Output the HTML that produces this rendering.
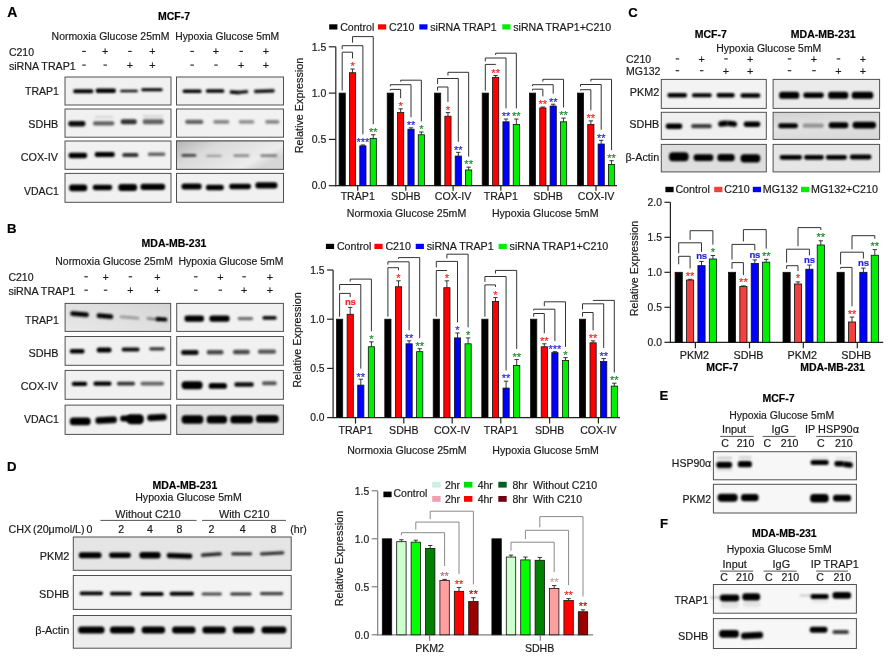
<!DOCTYPE html>
<html><head><meta charset="utf-8"><style>
html,body{margin:0;padding:0;background:#fff;}
svg{display:block;opacity:0.999;filter:blur(0.3px);}
text{font-family:"Liberation Sans", sans-serif;stroke:currentColor;stroke-width:0.18px;}
</style></head><body>
<svg width="891" height="661" viewBox="0 0 891 661">
<defs>
<filter id="bl" x="-20%" y="-100%" width="140%" height="300%"><feGaussianBlur stdDeviation="0.95"/></filter>
<linearGradient id="gcox" x1="0" y1="0" x2="1" y2="0.5">
<stop offset="0" stop-color="#b4b4b4"/><stop offset="0.35" stop-color="#dadada"/><stop offset="0.7" stop-color="#e6e6e6"/><stop offset="0.85" stop-color="#ededed"/><stop offset="1" stop-color="#d6d6d6"/>
</linearGradient>
<linearGradient id="gsdhb" x1="0" y1="0" x2="0.3" y2="1">
<stop offset="0" stop-color="#d2d2d2"/><stop offset="0.6" stop-color="#e2e2e2"/><stop offset="1" stop-color="#dadada"/>
</linearGradient>
<linearGradient id="gtrap" x1="0" y1="1" x2="1" y2="0">
<stop offset="0" stop-color="#e8e8e8"/><stop offset="0.6" stop-color="#dedede"/><stop offset="1" stop-color="#d4d4d4"/>
</linearGradient>
</defs>
<rect x="0" y="0" width="891" height="661" fill="#fff"/>
<text x="7.20" y="17.20" font-size="14" text-anchor="start" font-weight="bold" fill="#000" style="color:#000" >A</text>
<text x="174.00" y="20.20" font-size="10.5" text-anchor="middle" font-weight="bold" fill="#000" style="color:#000" >MCF-7</text>
<text x="51.60" y="39.70" font-size="10.45" text-anchor="start" font-weight="normal" fill="#1a1a1a" style="color:#1a1a1a" >Normoxia Glucose 25mM</text>
<text x="175.20" y="39.70" font-size="10.35" text-anchor="start" font-weight="normal" fill="#1a1a1a" style="color:#1a1a1a" >Hypoxia Glucose 5mM</text>
<text x="8.90" y="55.80" font-size="10.5" text-anchor="start" font-weight="normal" fill="#1a1a1a" style="color:#1a1a1a" >C210</text>
<text x="8.90" y="69.50" font-size="10.7" text-anchor="start" font-weight="normal" fill="#1a1a1a" style="color:#1a1a1a" >siRNA TRAP1</text>
<rect x="82.25" y="50.85" width="3.50" height="1.10" fill="#1a1a1a" />
<text x="105.20" y="55.30" font-size="10.8" text-anchor="middle" font-weight="normal" fill="#1a1a1a" style="color:#1a1a1a" >+</text>
<rect x="128.15" y="50.85" width="3.50" height="1.10" fill="#1a1a1a" />
<text x="152.30" y="55.30" font-size="10.8" text-anchor="middle" font-weight="normal" fill="#1a1a1a" style="color:#1a1a1a" >+</text>
<rect x="190.35" y="50.85" width="3.50" height="1.10" fill="#1a1a1a" />
<text x="216.00" y="55.30" font-size="10.8" text-anchor="middle" font-weight="normal" fill="#1a1a1a" style="color:#1a1a1a" >+</text>
<rect x="239.45" y="50.85" width="3.50" height="1.10" fill="#1a1a1a" />
<text x="265.90" y="55.30" font-size="10.8" text-anchor="middle" font-weight="normal" fill="#1a1a1a" style="color:#1a1a1a" >+</text>
<rect x="82.25" y="64.55" width="3.50" height="1.10" fill="#1a1a1a" />
<rect x="103.45" y="64.55" width="3.50" height="1.10" fill="#1a1a1a" />
<text x="129.90" y="69.00" font-size="10.8" text-anchor="middle" font-weight="normal" fill="#1a1a1a" style="color:#1a1a1a" >+</text>
<text x="152.30" y="69.00" font-size="10.8" text-anchor="middle" font-weight="normal" fill="#1a1a1a" style="color:#1a1a1a" >+</text>
<rect x="190.35" y="64.55" width="3.50" height="1.10" fill="#1a1a1a" />
<rect x="214.25" y="64.55" width="3.50" height="1.10" fill="#1a1a1a" />
<text x="241.20" y="69.00" font-size="10.8" text-anchor="middle" font-weight="normal" fill="#1a1a1a" style="color:#1a1a1a" >+</text>
<text x="265.90" y="69.00" font-size="10.8" text-anchor="middle" font-weight="normal" fill="#1a1a1a" style="color:#1a1a1a" >+</text>
<text x="58.90" y="94.80" font-size="10.5" text-anchor="end" font-weight="normal" fill="#1a1a1a" style="color:#1a1a1a" >TRAP1</text>
<text x="58.30" y="127.50" font-size="10.8" text-anchor="end" font-weight="normal" fill="#1a1a1a" style="color:#1a1a1a" >SDHB</text>
<text x="57.90" y="161.00" font-size="10.8" text-anchor="end" font-weight="normal" fill="#1a1a1a" style="color:#1a1a1a" >COX-IV</text>
<text x="58.90" y="194.50" font-size="10.5" text-anchor="end" font-weight="normal" fill="#1a1a1a" style="color:#1a1a1a" >VDAC1</text>
<rect x="65.00" y="77.00" width="106.00" height="28.00" fill="#f1f1f1" stroke="#505050" stroke-width="1.0" />
<rect x="176.50" y="77.00" width="107.00" height="28.00" fill="#f1f1f1" stroke="#505050" stroke-width="1.0" />
<rect x="65.00" y="109.00" width="106.00" height="28.20" fill="#f1f1f1" stroke="#505050" stroke-width="1.0" />
<rect x="176.50" y="109.00" width="107.00" height="28.20" fill="#f1f1f1" stroke="#505050" stroke-width="1.0" />
<rect x="65.00" y="141.00" width="106.00" height="28.30" fill="#f1f1f1" stroke="#505050" stroke-width="1.0" />
<rect x="176.50" y="141.00" width="107.00" height="28.30" fill="#f1f1f1" stroke="#505050" stroke-width="1.0" />
<rect x="65.00" y="173.40" width="106.00" height="28.90" fill="#f1f1f1" stroke="#505050" stroke-width="1.0" />
<rect x="176.50" y="173.40" width="107.00" height="28.90" fill="#f1f1f1" stroke="#505050" stroke-width="1.0" />
<rect x="73.20" y="89.27" width="20.10" height="3.86" rx="1.62" ry="1.74" fill="#000" fill-opacity="1" filter="url(#bl)"/>
<rect x="95.70" y="88.59" width="20.20" height="4.42" rx="1.86" ry="1.99" fill="#000" fill-opacity="1" filter="url(#bl)"/>
<rect x="120.20" y="89.63" width="17.60" height="2.74" rx="1.15" ry="1.23" fill="#000" fill-opacity="0.95" filter="url(#bl)"/>
<rect x="141.30" y="88.32" width="21.30" height="2.96" rx="1.24" ry="1.33" fill="#000" fill-opacity="1" filter="url(#bl)"/>
<rect x="68.20" y="120.99" width="17.30" height="5.43" rx="2.28" ry="2.44" fill="#000" fill-opacity="0.95" filter="url(#bl)"/>
<rect x="93.00" y="121.15" width="21.30" height="4.31" rx="1.81" ry="1.94" fill="#000" fill-opacity="0.6" filter="url(#bl)"/>
<rect x="94.70" y="115.63" width="18.60" height="2.74" rx="1.15" ry="1.23" fill="#000" fill-opacity="0.1" filter="url(#bl)"/>
<rect x="120.70" y="119.31" width="16.10" height="4.98" rx="2.09" ry="2.24" fill="#000" fill-opacity="0.8" filter="url(#bl)"/>
<rect x="142.70" y="119.31" width="21.10" height="4.98" rx="2.09" ry="2.24" fill="#000" fill-opacity="0.6" filter="url(#bl)"/>
<rect x="142.70" y="115.03" width="20.60" height="2.74" rx="1.15" ry="1.23" fill="#000" fill-opacity="0.1" filter="url(#bl)"/>
<rect x="68.50" y="152.73" width="18.70" height="5.54" rx="2.33" ry="2.49" fill="#000" fill-opacity="1" filter="url(#bl)"/>
<rect x="94.70" y="152.01" width="20.10" height="4.98" rx="2.09" ry="2.24" fill="#000" fill-opacity="1" filter="url(#bl)"/>
<rect x="122.30" y="152.96" width="16.10" height="4.08" rx="1.72" ry="1.84" fill="#000" fill-opacity="0.8" filter="url(#bl)"/>
<rect x="147.90" y="152.54" width="17.40" height="3.52" rx="1.48" ry="1.59" fill="#000" fill-opacity="0.6" filter="url(#bl)"/>
<rect x="69.10" y="184.47" width="18.10" height="6.66" rx="2.80" ry="3.00" fill="#000" fill-opacity="1" filter="url(#bl)"/>
<rect x="92.70" y="184.73" width="19.50" height="5.54" rx="2.33" ry="2.49" fill="#000" fill-opacity="1" filter="url(#bl)"/>
<rect x="118.30" y="183.89" width="18.80" height="7.22" rx="3.03" ry="3.25" fill="#000" fill-opacity="1" filter="url(#bl)"/>
<rect x="140.50" y="183.85" width="24.60" height="6.10" rx="2.56" ry="2.75" fill="#000" fill-opacity="1" filter="url(#bl)"/>
<rect x="182.60" y="89.49" width="19.00" height="3.41" rx="1.43" ry="1.54" fill="#000" fill-opacity="1" filter="url(#bl)"/>
<rect x="205.90" y="89.29" width="18.40" height="3.41" rx="1.43" ry="1.54" fill="#000" fill-opacity="1" filter="url(#bl)"/>
<rect x="229.60" y="90.49" width="9.70" height="3.41" rx="1.43" ry="1.54" fill="#000" fill-opacity="1" filter="url(#bl)" transform="rotate(5 234.45 92.20)"/>
<rect x="237.70" y="90.41" width="10.50" height="3.19" rx="1.34" ry="1.43" fill="#000" fill-opacity="1" filter="url(#bl)" transform="rotate(-6 242.95 92.00)"/>
<rect x="254.00" y="89.61" width="20.70" height="3.19" rx="1.34" ry="1.43" fill="#000" fill-opacity="1" filter="url(#bl)" transform="rotate(-2 264.35 91.20)"/>
<rect x="185.20" y="119.86" width="18.10" height="4.08" rx="1.72" ry="1.84" fill="#000" fill-opacity="0.6" filter="url(#bl)"/>
<rect x="213.30" y="120.08" width="16.00" height="3.64" rx="1.53" ry="1.64" fill="#000" fill-opacity="0.45" filter="url(#bl)"/>
<rect x="238.70" y="120.08" width="15.60" height="3.64" rx="1.53" ry="1.64" fill="#000" fill-opacity="0.4" filter="url(#bl)"/>
<rect x="265.20" y="120.08" width="14.10" height="3.64" rx="1.53" ry="1.64" fill="#000" fill-opacity="0.45" filter="url(#bl)"/>
<rect x="176.5" y="141" width="107" height="28.3" fill="url(#gcox)" stroke="#505050" stroke-width="1.0"/>
<rect x="181.50" y="154.03" width="14.80" height="2.74" rx="1.15" ry="1.23" fill="#000" fill-opacity="0.7" filter="url(#bl)"/>
<rect x="206.30" y="154.71" width="15.40" height="2.18" rx="0.92" ry="0.98" fill="#000" fill-opacity="0.3" filter="url(#bl)"/>
<rect x="233.40" y="154.23" width="15.90" height="2.74" rx="1.15" ry="1.23" fill="#000" fill-opacity="0.4" filter="url(#bl)"/>
<rect x="260.30" y="154.23" width="17.00" height="2.74" rx="1.15" ry="1.23" fill="#000" fill-opacity="0.45" filter="url(#bl)"/>
<rect x="181.50" y="183.45" width="20.10" height="6.10" rx="2.56" ry="2.75" fill="#000" fill-opacity="1" filter="url(#bl)"/>
<rect x="205.90" y="184.83" width="17.90" height="5.54" rx="2.33" ry="2.49" fill="#000" fill-opacity="1" filter="url(#bl)"/>
<rect x="229.20" y="183.73" width="21.80" height="5.54" rx="2.33" ry="2.49" fill="#000" fill-opacity="1" filter="url(#bl)"/>
<rect x="255.40" y="182.35" width="22.00" height="6.10" rx="2.56" ry="2.75" fill="#000" fill-opacity="1" filter="url(#bl)"/>
<text x="7.10" y="232.70" font-size="13.2" text-anchor="start" font-weight="bold" fill="#000" style="color:#000" >B</text>
<text x="174.00" y="247.40" font-size="10.5" text-anchor="middle" font-weight="bold" fill="#000" style="color:#000" >MDA-MB-231</text>
<text x="55.30" y="265.20" font-size="10.45" text-anchor="start" font-weight="normal" fill="#1a1a1a" style="color:#1a1a1a" >Normoxia Glucose 25mM</text>
<text x="178.50" y="265.20" font-size="10.45" text-anchor="start" font-weight="normal" fill="#1a1a1a" style="color:#1a1a1a" >Hypoxia Glucose 5mM</text>
<text x="8.40" y="281.20" font-size="10.5" text-anchor="start" font-weight="normal" fill="#1a1a1a" style="color:#1a1a1a" >C210</text>
<text x="8.40" y="294.60" font-size="10.7" text-anchor="start" font-weight="normal" fill="#1a1a1a" style="color:#1a1a1a" >siRNA TRAP1</text>
<rect x="84.35" y="276.25" width="3.50" height="1.10" fill="#1a1a1a" />
<text x="105.60" y="280.70" font-size="10.8" text-anchor="middle" font-weight="normal" fill="#1a1a1a" style="color:#1a1a1a" >+</text>
<rect x="128.65" y="276.25" width="3.50" height="1.10" fill="#1a1a1a" />
<text x="157.30" y="280.70" font-size="10.8" text-anchor="middle" font-weight="normal" fill="#1a1a1a" style="color:#1a1a1a" >+</text>
<rect x="194.05" y="276.25" width="3.50" height="1.10" fill="#1a1a1a" />
<text x="220.30" y="280.70" font-size="10.8" text-anchor="middle" font-weight="normal" fill="#1a1a1a" style="color:#1a1a1a" >+</text>
<rect x="242.35" y="276.25" width="3.50" height="1.10" fill="#1a1a1a" />
<text x="270.00" y="280.70" font-size="10.8" text-anchor="middle" font-weight="normal" fill="#1a1a1a" style="color:#1a1a1a" >+</text>
<rect x="84.35" y="289.65" width="3.50" height="1.10" fill="#1a1a1a" />
<rect x="103.85" y="289.65" width="3.50" height="1.10" fill="#1a1a1a" />
<text x="130.40" y="294.10" font-size="10.8" text-anchor="middle" font-weight="normal" fill="#1a1a1a" style="color:#1a1a1a" >+</text>
<text x="157.30" y="294.10" font-size="10.8" text-anchor="middle" font-weight="normal" fill="#1a1a1a" style="color:#1a1a1a" >+</text>
<rect x="194.05" y="289.65" width="3.50" height="1.10" fill="#1a1a1a" />
<rect x="218.55" y="289.65" width="3.50" height="1.10" fill="#1a1a1a" />
<text x="244.10" y="294.10" font-size="10.8" text-anchor="middle" font-weight="normal" fill="#1a1a1a" style="color:#1a1a1a" >+</text>
<text x="270.00" y="294.10" font-size="10.8" text-anchor="middle" font-weight="normal" fill="#1a1a1a" style="color:#1a1a1a" >+</text>
<text x="58.90" y="324.00" font-size="10.5" text-anchor="end" font-weight="normal" fill="#1a1a1a" style="color:#1a1a1a" >TRAP1</text>
<text x="58.50" y="357.30" font-size="10.8" text-anchor="end" font-weight="normal" fill="#1a1a1a" style="color:#1a1a1a" >SDHB</text>
<text x="57.90" y="389.50" font-size="10.8" text-anchor="end" font-weight="normal" fill="#1a1a1a" style="color:#1a1a1a" >COX-IV</text>
<text x="58.90" y="423.40" font-size="10.5" text-anchor="end" font-weight="normal" fill="#1a1a1a" style="color:#1a1a1a" >VDAC1</text>
<rect x="65.10" y="303.40" width="105.60" height="28.00" fill="url(#gtrap)" stroke="#505050" stroke-width="1.0" />
<rect x="176.70" y="303.40" width="106.70" height="28.00" fill="#f1f1f1" stroke="#505050" stroke-width="1.0" />
<rect x="65.10" y="336.50" width="105.60" height="28.80" fill="#f1f1f1" stroke="#505050" stroke-width="1.0" />
<rect x="176.70" y="336.50" width="106.70" height="28.80" fill="#f1f1f1" stroke="#505050" stroke-width="1.0" />
<rect x="65.10" y="370.40" width="105.60" height="28.90" fill="#f1f1f1" stroke="#505050" stroke-width="1.0" />
<rect x="176.70" y="370.40" width="106.70" height="28.90" fill="#f1f1f1" stroke="#505050" stroke-width="1.0" />
<rect x="65.10" y="405.10" width="105.60" height="29.30" fill="#f1f1f1" stroke="#505050" stroke-width="1.0" />
<rect x="176.70" y="405.10" width="106.70" height="29.30" fill="#e2e2e2" stroke="#505050" stroke-width="1.0" />
<rect x="70.30" y="311.82" width="18.50" height="4.76" rx="2.00" ry="2.14" fill="#000" fill-opacity="1" filter="url(#bl)" transform="rotate(5 79.55 314.20)"/>
<rect x="96.60" y="313.82" width="16.60" height="4.76" rx="2.00" ry="2.14" fill="#000" fill-opacity="1" filter="url(#bl)" transform="rotate(5 104.90 316.20)"/>
<rect x="119.70" y="316.02" width="19.60" height="2.96" rx="1.24" ry="1.33" fill="#000" fill-opacity="0.3" filter="url(#bl)" transform="rotate(5 129.50 317.50)"/>
<rect x="146.70" y="317.74" width="13.60" height="2.52" rx="1.06" ry="1.13" fill="#000" fill-opacity="0.45" filter="url(#bl)" transform="rotate(6 153.50 319.00)"/>
<rect x="155.70" y="317.26" width="11.60" height="4.08" rx="1.72" ry="1.84" fill="#000" fill-opacity="1" filter="url(#bl)" transform="rotate(4 161.50 319.30)"/>
<rect x="69.80" y="349.09" width="14.70" height="4.42" rx="1.86" ry="1.99" fill="#000" fill-opacity="1" filter="url(#bl)"/>
<rect x="96.70" y="347.51" width="14.80" height="4.98" rx="2.09" ry="2.24" fill="#000" fill-opacity="1" filter="url(#bl)"/>
<rect x="121.70" y="347.57" width="17.80" height="3.86" rx="1.62" ry="1.74" fill="#000" fill-opacity="0.95" filter="url(#bl)"/>
<rect x="149.30" y="347.25" width="15.40" height="3.30" rx="1.39" ry="1.49" fill="#000" fill-opacity="0.8" filter="url(#bl)"/>
<rect x="71.80" y="381.69" width="15.40" height="4.42" rx="1.86" ry="1.99" fill="#000" fill-opacity="1" filter="url(#bl)"/>
<rect x="93.40" y="381.39" width="18.10" height="4.42" rx="1.86" ry="1.99" fill="#000" fill-opacity="1" filter="url(#bl)"/>
<rect x="116.90" y="381.67" width="18.10" height="3.86" rx="1.62" ry="1.74" fill="#000" fill-opacity="0.8" filter="url(#bl)"/>
<rect x="140.50" y="381.67" width="23.50" height="3.86" rx="1.62" ry="1.74" fill="#000" fill-opacity="0.6" filter="url(#bl)"/>
<rect x="69.80" y="417.41" width="20.80" height="7.78" rx="3.27" ry="3.50" fill="#000" fill-opacity="1" filter="url(#bl)"/>
<rect x="95.40" y="416.87" width="21.50" height="6.66" rx="2.80" ry="3.00" fill="#000" fill-opacity="1" filter="url(#bl)" transform="rotate(-3 106.15 420.20)"/>
<rect x="120.20" y="415.45" width="11.10" height="6.10" rx="2.56" ry="2.75" fill="#000" fill-opacity="1" filter="url(#bl)"/>
<rect x="126.70" y="414.19" width="17.10" height="10.02" rx="4.21" ry="4.51" fill="#000" fill-opacity="1" filter="url(#bl)"/>
<rect x="147.20" y="414.17" width="19.50" height="6.66" rx="2.80" ry="3.00" fill="#000" fill-opacity="1" filter="url(#bl)" transform="rotate(-3 156.95 417.50)"/>
<rect x="184.50" y="315.55" width="19.50" height="6.10" rx="2.56" ry="2.75" fill="#000" fill-opacity="1" filter="url(#bl)"/>
<rect x="209.40" y="315.55" width="20.20" height="6.10" rx="2.56" ry="2.75" fill="#000" fill-opacity="1" filter="url(#bl)"/>
<rect x="237.70" y="316.95" width="15.40" height="3.30" rx="1.39" ry="1.49" fill="#000" fill-opacity="0.55" filter="url(#bl)"/>
<rect x="262.40" y="315.97" width="14.30" height="3.86" rx="1.62" ry="1.74" fill="#000" fill-opacity="0.95" filter="url(#bl)"/>
<rect x="181.10" y="350.11" width="17.50" height="4.98" rx="2.09" ry="2.24" fill="#000" fill-opacity="0.95" filter="url(#bl)"/>
<rect x="206.70" y="350.09" width="16.80" height="4.42" rx="1.86" ry="1.99" fill="#000" fill-opacity="0.7" filter="url(#bl)"/>
<rect x="233.00" y="349.79" width="16.80" height="4.42" rx="1.86" ry="1.99" fill="#000" fill-opacity="0.7" filter="url(#bl)"/>
<rect x="257.90" y="349.39" width="18.10" height="4.42" rx="1.86" ry="1.99" fill="#000" fill-opacity="0.65" filter="url(#bl)"/>
<rect x="181.60" y="381.14" width="21.00" height="8.12" rx="3.41" ry="3.65" fill="#000" fill-opacity="1" filter="url(#bl)"/>
<rect x="208.70" y="382.96" width="18.20" height="5.88" rx="2.47" ry="2.64" fill="#000" fill-opacity="1" filter="url(#bl)"/>
<rect x="234.30" y="382.23" width="19.50" height="4.53" rx="1.90" ry="2.04" fill="#000" fill-opacity="0.95" filter="url(#bl)"/>
<rect x="262.00" y="381.16" width="14.70" height="4.08" rx="1.72" ry="1.84" fill="#000" fill-opacity="0.65" filter="url(#bl)"/>
<rect x="181.60" y="415.33" width="21.70" height="8.34" rx="3.50" ry="3.75" fill="#000" fill-opacity="1" filter="url(#bl)"/>
<rect x="206.70" y="415.61" width="20.40" height="7.78" rx="3.27" ry="3.50" fill="#000" fill-opacity="1" filter="url(#bl)"/>
<rect x="230.30" y="415.61" width="22.80" height="7.78" rx="3.27" ry="3.50" fill="#000" fill-opacity="1" filter="url(#bl)"/>
<rect x="255.90" y="415.01" width="22.80" height="7.78" rx="3.27" ry="3.50" fill="#000" fill-opacity="1" filter="url(#bl)"/>
<text x="628.20" y="16.50" font-size="13.2" text-anchor="start" font-weight="bold" fill="#000" style="color:#000" >C</text>
<text x="710.70" y="37.70" font-size="10.5" text-anchor="middle" font-weight="bold" fill="#000" style="color:#000" >MCF-7</text>
<text x="823.20" y="38.10" font-size="10.5" text-anchor="middle" font-weight="bold" fill="#000" style="color:#000" >MDA-MB-231</text>
<text x="716.30" y="51.90" font-size="10.45" text-anchor="start" font-weight="normal" fill="#1a1a1a" style="color:#1a1a1a" >Hypoxia Glucose 5mM</text>
<text x="626.00" y="63.20" font-size="10.5" text-anchor="start" font-weight="normal" fill="#1a1a1a" style="color:#1a1a1a" >C210</text>
<text x="626.00" y="75.10" font-size="10.5" text-anchor="start" font-weight="normal" fill="#1a1a1a" style="color:#1a1a1a" >MG132</text>
<rect x="675.65" y="58.35" width="3.50" height="1.10" fill="#1a1a1a" />
<text x="701.70" y="62.80" font-size="10.8" text-anchor="middle" font-weight="normal" fill="#1a1a1a" style="color:#1a1a1a" >+</text>
<rect x="724.25" y="58.35" width="3.50" height="1.10" fill="#1a1a1a" />
<text x="750.10" y="62.80" font-size="10.8" text-anchor="middle" font-weight="normal" fill="#1a1a1a" style="color:#1a1a1a" >+</text>
<rect x="787.75" y="58.35" width="3.50" height="1.10" fill="#1a1a1a" />
<text x="814.00" y="62.80" font-size="10.8" text-anchor="middle" font-weight="normal" fill="#1a1a1a" style="color:#1a1a1a" >+</text>
<rect x="836.75" y="58.35" width="3.50" height="1.10" fill="#1a1a1a" />
<text x="863.00" y="62.80" font-size="10.8" text-anchor="middle" font-weight="normal" fill="#1a1a1a" style="color:#1a1a1a" >+</text>
<rect x="675.65" y="70.15" width="3.50" height="1.10" fill="#1a1a1a" />
<rect x="699.95" y="70.15" width="3.50" height="1.10" fill="#1a1a1a" />
<text x="726.00" y="74.60" font-size="10.8" text-anchor="middle" font-weight="normal" fill="#1a1a1a" style="color:#1a1a1a" >+</text>
<text x="750.10" y="74.60" font-size="10.8" text-anchor="middle" font-weight="normal" fill="#1a1a1a" style="color:#1a1a1a" >+</text>
<rect x="787.75" y="70.15" width="3.50" height="1.10" fill="#1a1a1a" />
<rect x="812.25" y="70.15" width="3.50" height="1.10" fill="#1a1a1a" />
<text x="838.50" y="74.60" font-size="10.8" text-anchor="middle" font-weight="normal" fill="#1a1a1a" style="color:#1a1a1a" >+</text>
<text x="863.00" y="74.60" font-size="10.8" text-anchor="middle" font-weight="normal" fill="#1a1a1a" style="color:#1a1a1a" >+</text>
<text x="659.20" y="95.70" font-size="10.8" text-anchor="end" font-weight="normal" fill="#1a1a1a" style="color:#1a1a1a" >PKM2</text>
<text x="659.20" y="128.20" font-size="10.8" text-anchor="end" font-weight="normal" fill="#1a1a1a" style="color:#1a1a1a" >SDHB</text>
<text x="659.20" y="160.80" font-size="10.8" text-anchor="end" font-weight="normal" fill="#1a1a1a" style="color:#1a1a1a" >β-Actin</text>
<rect x="661.30" y="79.40" width="105.00" height="29.00" fill="#f3f3f3" stroke="#505050" stroke-width="1.0" />
<rect x="773.10" y="79.40" width="106.50" height="29.00" fill="#ebebeb" stroke="#505050" stroke-width="1.0" />
<rect x="661.30" y="112.30" width="105.00" height="27.10" fill="#f0f0f0" stroke="#505050" stroke-width="1.0" />
<rect x="773.10" y="112.30" width="106.50" height="27.10" fill="url(#gsdhb)" stroke="#505050" stroke-width="1.0" />
<rect x="661.30" y="144.40" width="105.00" height="27.50" fill="#dedede" stroke="#505050" stroke-width="1.0" />
<rect x="773.10" y="144.40" width="106.50" height="27.50" fill="#e6e6e6" stroke="#505050" stroke-width="1.0" />
<rect x="667.40" y="93.03" width="19.60" height="4.53" rx="1.90" ry="2.04" fill="#000" fill-opacity="1" filter="url(#bl)"/>
<rect x="692.00" y="93.37" width="19.70" height="3.86" rx="1.62" ry="1.74" fill="#000" fill-opacity="1" filter="url(#bl)"/>
<rect x="716.60" y="93.03" width="18.10" height="4.53" rx="1.90" ry="2.04" fill="#000" fill-opacity="1" filter="url(#bl)"/>
<rect x="740.50" y="93.23" width="19.80" height="4.53" rx="1.90" ry="2.04" fill="#000" fill-opacity="1" filter="url(#bl)"/>
<rect x="665.70" y="123.49" width="16.60" height="5.43" rx="2.28" ry="2.44" fill="#000" fill-opacity="1" filter="url(#bl)"/>
<rect x="691.20" y="124.05" width="20.50" height="4.31" rx="1.81" ry="1.94" fill="#000" fill-opacity="0.75" filter="url(#bl)"/>
<rect x="718.20" y="120.77" width="10.10" height="5.65" rx="2.37" ry="2.54" fill="#000" fill-opacity="1" filter="url(#bl)" transform="rotate(-7 723.25 123.60)"/>
<rect x="726.70" y="120.97" width="10.40" height="5.65" rx="2.37" ry="2.54" fill="#000" fill-opacity="1" filter="url(#bl)" transform="rotate(8 731.90 123.80)"/>
<rect x="743.70" y="121.59" width="16.60" height="5.43" rx="2.28" ry="2.44" fill="#000" fill-opacity="1" filter="url(#bl)"/>
<rect x="669.00" y="152.35" width="19.60" height="8.90" rx="3.74" ry="4.00" fill="#000" fill-opacity="1" filter="url(#bl)"/>
<rect x="693.60" y="154.27" width="19.70" height="6.66" rx="2.80" ry="3.00" fill="#000" fill-opacity="1" filter="url(#bl)"/>
<rect x="717.40" y="153.99" width="17.30" height="7.22" rx="3.03" ry="3.25" fill="#000" fill-opacity="1" filter="url(#bl)"/>
<rect x="740.50" y="154.34" width="19.80" height="8.12" rx="3.41" ry="3.65" fill="#000" fill-opacity="1" filter="url(#bl)"/>
<rect x="779.10" y="91.80" width="20.20" height="7.00" rx="2.94" ry="3.15" fill="#000" fill-opacity="1" filter="url(#bl)"/>
<rect x="803.30" y="92.59" width="20.50" height="5.43" rx="2.28" ry="2.44" fill="#000" fill-opacity="1" filter="url(#bl)"/>
<rect x="828.10" y="91.80" width="20.20" height="7.00" rx="2.94" ry="3.15" fill="#000" fill-opacity="1" filter="url(#bl)"/>
<rect x="851.70" y="91.80" width="21.60" height="7.00" rx="2.94" ry="3.15" fill="#000" fill-opacity="1" filter="url(#bl)"/>
<rect x="778.30" y="123.21" width="19.60" height="4.98" rx="2.09" ry="2.24" fill="#000" fill-opacity="1" filter="url(#bl)"/>
<rect x="802.70" y="123.55" width="21.10" height="4.31" rx="1.81" ry="1.94" fill="#000" fill-opacity="0.35" filter="url(#bl)"/>
<rect x="828.70" y="122.15" width="19.60" height="6.10" rx="2.56" ry="2.75" fill="#000" fill-opacity="1" filter="url(#bl)"/>
<rect x="852.60" y="121.81" width="23.40" height="6.77" rx="2.84" ry="3.05" fill="#000" fill-opacity="1" filter="url(#bl)"/>
<rect x="779.70" y="154.92" width="22.30" height="4.76" rx="2.00" ry="2.14" fill="#000" fill-opacity="1" filter="url(#bl)"/>
<rect x="804.10" y="154.92" width="19.70" height="4.76" rx="2.00" ry="2.14" fill="#000" fill-opacity="1" filter="url(#bl)"/>
<rect x="825.90" y="154.92" width="21.00" height="4.76" rx="2.00" ry="2.14" fill="#000" fill-opacity="1" filter="url(#bl)"/>
<rect x="849.90" y="154.62" width="21.50" height="4.76" rx="2.00" ry="2.14" fill="#000" fill-opacity="1" filter="url(#bl)"/>
<text x="7.00" y="471.30" font-size="13.2" text-anchor="start" font-weight="bold" fill="#000" style="color:#000" >D</text>
<text x="184.90" y="489.00" font-size="10.5" text-anchor="middle" font-weight="bold" fill="#000" style="color:#000" >MDA-MB-231</text>
<text x="135.20" y="500.80" font-size="10.6" text-anchor="start" font-weight="normal" fill="#1a1a1a" style="color:#1a1a1a" >Hypoxia Glucose 5mM</text>
<text x="115.30" y="517.90" font-size="10.8" text-anchor="start" font-weight="normal" fill="#1a1a1a" style="color:#1a1a1a" >Without C210</text>
<text x="219.00" y="517.90" font-size="10.8" text-anchor="start" font-weight="normal" fill="#1a1a1a" style="color:#1a1a1a" >With C210</text>
<line x1="100.40" y1="520.40" x2="196.60" y2="520.40" stroke="#555" stroke-width="1.0"/>
<line x1="202.00" y1="520.40" x2="286.00" y2="520.40" stroke="#555" stroke-width="1.0"/>
<text x="8.40" y="532.60" font-size="10.75" text-anchor="start" font-weight="normal" fill="#1a1a1a" style="color:#1a1a1a" word-spacing="-1.0">CHX (20μmol/L)</text>
<text x="89.50" y="532.60" font-size="10.6" text-anchor="middle" font-weight="normal" fill="#1a1a1a" style="color:#1a1a1a" >0</text>
<text x="121.20" y="532.60" font-size="10.6" text-anchor="middle" font-weight="normal" fill="#1a1a1a" style="color:#1a1a1a" >2</text>
<text x="149.90" y="532.60" font-size="10.6" text-anchor="middle" font-weight="normal" fill="#1a1a1a" style="color:#1a1a1a" >4</text>
<text x="179.40" y="532.60" font-size="10.6" text-anchor="middle" font-weight="normal" fill="#1a1a1a" style="color:#1a1a1a" >8</text>
<text x="211.40" y="532.60" font-size="10.6" text-anchor="middle" font-weight="normal" fill="#1a1a1a" style="color:#1a1a1a" >2</text>
<text x="242.60" y="532.60" font-size="10.6" text-anchor="middle" font-weight="normal" fill="#1a1a1a" style="color:#1a1a1a" >4</text>
<text x="273.40" y="532.60" font-size="10.6" text-anchor="middle" font-weight="normal" fill="#1a1a1a" style="color:#1a1a1a" >8</text>
<text x="290.30" y="532.60" font-size="10.6" text-anchor="start" font-weight="normal" fill="#1a1a1a" style="color:#1a1a1a" >(hr)</text>
<text x="69.30" y="560.30" font-size="10.9" text-anchor="end" font-weight="normal" fill="#1a1a1a" style="color:#1a1a1a" >PKM2</text>
<text x="69.30" y="598.20" font-size="10.9" text-anchor="end" font-weight="normal" fill="#1a1a1a" style="color:#1a1a1a" >SDHB</text>
<text x="69.30" y="633.60" font-size="10.9" text-anchor="end" font-weight="normal" fill="#1a1a1a" style="color:#1a1a1a" >β-Actin</text>
<rect x="73.30" y="537.00" width="217.90" height="33.30" fill="#e5e5e5" stroke="#505050" stroke-width="1.0" />
<rect x="73.30" y="575.50" width="217.90" height="33.90" fill="#f3f3f3" stroke="#505050" stroke-width="1.0" />
<rect x="73.30" y="615.50" width="217.90" height="32.70" fill="#ededed" stroke="#505050" stroke-width="1.0" />
<rect x="78.80" y="552.15" width="22.70" height="6.10" rx="2.56" ry="2.75" fill="#000" fill-opacity="1" filter="url(#bl)"/>
<rect x="109.10" y="552.49" width="21.80" height="5.43" rx="2.28" ry="2.44" fill="#000" fill-opacity="1" filter="url(#bl)"/>
<rect x="139.40" y="551.98" width="21.20" height="6.44" rx="2.70" ry="2.90" fill="#000" fill-opacity="1" filter="url(#bl)"/>
<rect x="166.70" y="553.20" width="25.70" height="5.20" rx="2.19" ry="2.34" fill="#000" fill-opacity="1" filter="url(#bl)" transform="rotate(2 179.55 555.80)"/>
<rect x="200.90" y="552.84" width="20.90" height="3.52" rx="1.48" ry="1.59" fill="#000" fill-opacity="0.85" filter="url(#bl)" transform="rotate(-4 211.35 554.60)"/>
<rect x="231.20" y="552.21" width="20.90" height="3.19" rx="1.34" ry="1.43" fill="#000" fill-opacity="0.8" filter="url(#bl)"/>
<rect x="260.00" y="551.81" width="24.30" height="3.19" rx="1.34" ry="1.43" fill="#000" fill-opacity="0.8" filter="url(#bl)" transform="rotate(-3 272.15 553.40)"/>
<rect x="79.70" y="591.58" width="23.30" height="3.64" rx="1.53" ry="1.64" fill="#000" fill-opacity="1" filter="url(#bl)"/>
<rect x="110.00" y="591.78" width="21.80" height="3.64" rx="1.53" ry="1.64" fill="#000" fill-opacity="1" filter="url(#bl)"/>
<rect x="140.30" y="592.01" width="23.30" height="3.97" rx="1.67" ry="1.79" fill="#000" fill-opacity="1" filter="url(#bl)"/>
<rect x="169.70" y="591.81" width="24.20" height="3.97" rx="1.67" ry="1.79" fill="#000" fill-opacity="1" filter="url(#bl)"/>
<rect x="201.70" y="592.52" width="20.10" height="2.96" rx="1.24" ry="1.33" fill="#000" fill-opacity="0.7" filter="url(#bl)"/>
<rect x="230.30" y="592.41" width="21.20" height="3.19" rx="1.34" ry="1.43" fill="#000" fill-opacity="0.8" filter="url(#bl)"/>
<rect x="260.00" y="591.95" width="23.30" height="3.30" rx="1.39" ry="1.49" fill="#000" fill-opacity="0.75" filter="url(#bl)"/>
<rect x="78.20" y="626.39" width="26.30" height="7.22" rx="3.03" ry="3.25" fill="#000" fill-opacity="1" filter="url(#bl)"/>
<rect x="110.00" y="626.39" width="24.80" height="7.22" rx="3.03" ry="3.25" fill="#000" fill-opacity="1" filter="url(#bl)"/>
<rect x="141.70" y="626.39" width="23.40" height="7.22" rx="3.03" ry="3.25" fill="#000" fill-opacity="1" filter="url(#bl)"/>
<rect x="172.10" y="626.39" width="23.40" height="7.22" rx="3.03" ry="3.25" fill="#000" fill-opacity="1" filter="url(#bl)"/>
<rect x="202.40" y="626.39" width="23.40" height="7.22" rx="3.03" ry="3.25" fill="#000" fill-opacity="1" filter="url(#bl)"/>
<rect x="232.70" y="626.39" width="21.80" height="7.22" rx="3.03" ry="3.25" fill="#000" fill-opacity="1" filter="url(#bl)"/>
<rect x="261.50" y="626.39" width="24.80" height="7.22" rx="3.03" ry="3.25" fill="#000" fill-opacity="1" filter="url(#bl)"/>
<text x="659.40" y="399.60" font-size="13.2" text-anchor="start" font-weight="bold" fill="#000" style="color:#000" >E</text>
<text x="778.50" y="401.50" font-size="10.5" text-anchor="middle" font-weight="bold" fill="#000" style="color:#000" >MCF-7</text>
<text x="729.20" y="419.20" font-size="10.45" text-anchor="start" font-weight="normal" fill="#1a1a1a" style="color:#1a1a1a" >Hypoxia Glucose 5mM</text>
<text x="721.90" y="433.30" font-size="10.9" text-anchor="start" font-weight="normal" fill="#1a1a1a" style="color:#1a1a1a" >Input</text>
<text x="771.40" y="433.30" font-size="10.9" text-anchor="start" font-weight="normal" fill="#1a1a1a" style="color:#1a1a1a" >IgG</text>
<text x="805.00" y="433.30" font-size="10.9" text-anchor="start" font-weight="normal" fill="#1a1a1a" style="color:#1a1a1a" >IP HSP90α</text>
<line x1="720.20" y1="436.40" x2="753.70" y2="436.40" stroke="#555" stroke-width="1.0"/>
<line x1="762.70" y1="436.40" x2="795.60" y2="436.40" stroke="#555" stroke-width="1.0"/>
<line x1="816.20" y1="436.40" x2="852.70" y2="436.40" stroke="#555" stroke-width="1.0"/>
<text x="721.20" y="446.70" font-size="10.6" text-anchor="start" font-weight="normal" fill="#1a1a1a" style="color:#1a1a1a" >C</text>
<text x="736.70" y="446.70" font-size="10.6" text-anchor="start" font-weight="normal" fill="#1a1a1a" style="color:#1a1a1a" >210</text>
<text x="763.60" y="446.70" font-size="10.6" text-anchor="start" font-weight="normal" fill="#1a1a1a" style="color:#1a1a1a" >C</text>
<text x="780.80" y="446.70" font-size="10.6" text-anchor="start" font-weight="normal" fill="#1a1a1a" style="color:#1a1a1a" >210</text>
<text x="816.90" y="446.70" font-size="10.6" text-anchor="start" font-weight="normal" fill="#1a1a1a" style="color:#1a1a1a" >C</text>
<text x="835.00" y="446.70" font-size="10.6" text-anchor="start" font-weight="normal" fill="#1a1a1a" style="color:#1a1a1a" >210</text>
<text x="711.20" y="467.40" font-size="10.5" text-anchor="end" font-weight="normal" fill="#1a1a1a" style="color:#1a1a1a" >HSP90α</text>
<text x="711.20" y="503.40" font-size="10.5" text-anchor="end" font-weight="normal" fill="#1a1a1a" style="color:#1a1a1a" >PKM2</text>
<rect x="713.40" y="451.70" width="143.00" height="28.10" fill="#f7f7f7" stroke="#505050" stroke-width="1.0" />
<rect x="713.40" y="484.30" width="143.00" height="28.70" fill="#f7f7f7" stroke="#505050" stroke-width="1.0" />
<rect x="716.30" y="461.64" width="15.80" height="6.32" rx="2.66" ry="2.85" fill="#000" fill-opacity="1" filter="url(#bl)"/>
<rect x="737.80" y="460.94" width="14.10" height="6.32" rx="2.66" ry="2.85" fill="#000" fill-opacity="1" filter="url(#bl)"/>
<rect x="810.50" y="460.01" width="18.20" height="4.98" rx="2.09" ry="2.24" fill="#000" fill-opacity="1" filter="url(#bl)"/>
<rect x="834.30" y="461.09" width="10.00" height="5.43" rx="2.28" ry="2.44" fill="#000" fill-opacity="1" filter="url(#bl)"/>
<rect x="842.70" y="461.77" width="10.20" height="5.65" rx="2.37" ry="2.54" fill="#000" fill-opacity="1" filter="url(#bl)" transform="rotate(8 847.80 464.60)"/>
<rect x="716.70" y="456.91" width="15.60" height="2.18" rx="0.92" ry="0.98" fill="#000" fill-opacity="0.2" filter="url(#bl)"/>
<rect x="738.70" y="456.41" width="12.60" height="2.18" rx="0.92" ry="0.98" fill="#000" fill-opacity="0.2" filter="url(#bl)"/>
<rect x="716.70" y="468.41" width="15.60" height="2.18" rx="0.92" ry="0.98" fill="#000" fill-opacity="0.18" filter="url(#bl)"/>
<rect x="811.70" y="456.91" width="16.60" height="2.18" rx="0.92" ry="0.98" fill="#000" fill-opacity="0.1" filter="url(#bl)"/>
<rect x="835.70" y="456.91" width="16.60" height="2.18" rx="0.92" ry="0.98" fill="#000" fill-opacity="0.1" filter="url(#bl)"/>
<rect x="717.60" y="493.75" width="20.10" height="7.89" rx="3.31" ry="3.55" fill="#000" fill-opacity="1" filter="url(#bl)"/>
<rect x="741.00" y="494.09" width="17.60" height="7.22" rx="3.03" ry="3.25" fill="#000" fill-opacity="1" filter="url(#bl)"/>
<rect x="810.10" y="493.92" width="18.60" height="8.56" rx="3.60" ry="3.85" fill="#000" fill-opacity="1" filter="url(#bl)"/>
<rect x="833.00" y="494.81" width="18.10" height="6.77" rx="2.84" ry="3.05" fill="#000" fill-opacity="1" filter="url(#bl)"/>
<text x="659.90" y="528.00" font-size="13.2" text-anchor="start" font-weight="bold" fill="#000" style="color:#000" >F</text>
<text x="784.30" y="537.40" font-size="10.5" text-anchor="middle" font-weight="bold" fill="#000" style="color:#000" >MDA-MB-231</text>
<text x="726.80" y="552.70" font-size="10.45" text-anchor="start" font-weight="normal" fill="#1a1a1a" style="color:#1a1a1a" >Hypoxia Glucose 5mM</text>
<text x="722.60" y="568.00" font-size="10.9" text-anchor="start" font-weight="normal" fill="#1a1a1a" style="color:#1a1a1a" >Input</text>
<text x="772.60" y="568.00" font-size="10.9" text-anchor="start" font-weight="normal" fill="#1a1a1a" style="color:#1a1a1a" >IgG</text>
<text x="810.70" y="568.00" font-size="10.9" text-anchor="start" font-weight="normal" fill="#1a1a1a" style="color:#1a1a1a" >IP TRAP1</text>
<line x1="720.20" y1="571.10" x2="753.20" y2="571.10" stroke="#555" stroke-width="1.0"/>
<line x1="763.60" y1="571.10" x2="796.60" y2="571.10" stroke="#555" stroke-width="1.0"/>
<line x1="816.20" y1="571.10" x2="848.00" y2="571.10" stroke="#555" stroke-width="1.0"/>
<text x="720.20" y="581.00" font-size="10.6" text-anchor="start" font-weight="normal" fill="#1a1a1a" style="color:#1a1a1a" >C</text>
<text x="736.00" y="581.00" font-size="10.6" text-anchor="start" font-weight="normal" fill="#1a1a1a" style="color:#1a1a1a" >210</text>
<text x="765.00" y="581.00" font-size="10.6" text-anchor="start" font-weight="normal" fill="#1a1a1a" style="color:#1a1a1a" >C</text>
<text x="781.50" y="581.00" font-size="10.6" text-anchor="start" font-weight="normal" fill="#1a1a1a" style="color:#1a1a1a" >210</text>
<text x="816.20" y="581.00" font-size="10.6" text-anchor="start" font-weight="normal" fill="#1a1a1a" style="color:#1a1a1a" >C</text>
<text x="833.40" y="581.00" font-size="10.6" text-anchor="start" font-weight="normal" fill="#1a1a1a" style="color:#1a1a1a" >210</text>
<text x="708.30" y="603.60" font-size="10.5" text-anchor="end" font-weight="normal" fill="#1a1a1a" style="color:#1a1a1a" >TRAP1</text>
<text x="708.30" y="640.20" font-size="10.9" text-anchor="end" font-weight="normal" fill="#1a1a1a" style="color:#1a1a1a" >SDHB</text>
<rect x="713.40" y="584.50" width="143.00" height="28.70" fill="#f7f7f7" stroke="#505050" stroke-width="1.0" />
<rect x="713.40" y="618.60" width="143.00" height="29.90" fill="#f7f7f7" stroke="#505050" stroke-width="1.0" />
<rect x="719.90" y="594.61" width="19.40" height="6.77" rx="2.84" ry="3.05" fill="#000" fill-opacity="1" filter="url(#bl)"/>
<rect x="742.30" y="593.19" width="17.90" height="7.22" rx="3.03" ry="3.25" fill="#000" fill-opacity="1" filter="url(#bl)"/>
<rect x="810.50" y="593.91" width="18.20" height="4.98" rx="2.09" ry="2.24" fill="#000" fill-opacity="1" filter="url(#bl)"/>
<rect x="832.50" y="591.91" width="18.60" height="6.77" rx="2.84" ry="3.05" fill="#000" fill-opacity="1" filter="url(#bl)"/>
<rect x="709.70" y="596.58" width="11.60" height="1.84" rx="0.77" ry="0.83" fill="#000" fill-opacity="0.25" filter="url(#bl)"/>
<rect x="799.70" y="594.58" width="11.60" height="1.84" rx="0.77" ry="0.83" fill="#000" fill-opacity="0.2" filter="url(#bl)"/>
<rect x="720.70" y="601.95" width="18.60" height="6.10" rx="2.56" ry="2.75" fill="#000" fill-opacity="0.08" filter="url(#bl)"/>
<rect x="742.70" y="600.95" width="17.60" height="6.10" rx="2.56" ry="2.75" fill="#000" fill-opacity="0.08" filter="url(#bl)"/>
<rect x="811.70" y="599.07" width="16.60" height="3.86" rx="1.62" ry="1.74" fill="#000" fill-opacity="0.06" filter="url(#bl)"/>
<rect x="719.20" y="630.07" width="19.70" height="7.67" rx="3.22" ry="3.45" fill="#000" fill-opacity="1" filter="url(#bl)"/>
<rect x="741.00" y="632.23" width="22.10" height="6.55" rx="2.75" ry="2.95" fill="#000" fill-opacity="1" filter="url(#bl)" transform="rotate(-3 752.05 635.50)"/>
<rect x="809.70" y="626.75" width="17.80" height="6.10" rx="2.56" ry="2.75" fill="#000" fill-opacity="1" filter="url(#bl)"/>
<rect x="832.50" y="629.96" width="16.30" height="4.08" rx="1.72" ry="1.84" fill="#000" fill-opacity="0.75" filter="url(#bl)"/>
<line x1="335.80" y1="46.80" x2="335.80" y2="186.20" stroke="#222" stroke-width="1.2"/>
<line x1="335.20" y1="185.70" x2="617.00" y2="185.70" stroke="#222" stroke-width="1.2"/>
<line x1="328.80" y1="185.70" x2="335.80" y2="185.70" stroke="#222" stroke-width="1.2"/>
<text x="326.30" y="189.40" font-size="10.5" text-anchor="end" font-weight="normal" fill="#1a1a1a" style="color:#1a1a1a" >0.0</text>
<line x1="328.80" y1="139.40" x2="335.80" y2="139.40" stroke="#222" stroke-width="1.2"/>
<text x="326.30" y="143.10" font-size="10.5" text-anchor="end" font-weight="normal" fill="#1a1a1a" style="color:#1a1a1a" >0.5</text>
<line x1="328.80" y1="93.10" x2="335.80" y2="93.10" stroke="#222" stroke-width="1.2"/>
<text x="326.30" y="96.80" font-size="10.5" text-anchor="end" font-weight="normal" fill="#1a1a1a" style="color:#1a1a1a" >1.0</text>
<line x1="328.80" y1="46.80" x2="335.80" y2="46.80" stroke="#222" stroke-width="1.2"/>
<text x="326.30" y="50.50" font-size="10.5" text-anchor="end" font-weight="normal" fill="#1a1a1a" style="color:#1a1a1a" >1.5</text>
<rect x="339.10" y="93.10" width="6.20" height="92.60" fill="#000" stroke="#111" stroke-width="0.8" />
<rect x="349.45" y="72.73" width="6.20" height="112.97" fill="#ff0000" stroke="#111" stroke-width="0.8" />
<line x1="352.55" y1="72.73" x2="352.55" y2="69.02" stroke="#222" stroke-width="0.9"/>
<line x1="350.35" y1="69.02" x2="354.75" y2="69.02" stroke="#222" stroke-width="0.9"/>
<text x="352.55" y="70.32" font-size="11" text-anchor="middle" font-weight="normal" fill="#ff2020" style="color:#ff2020" >*</text>
<rect x="359.80" y="145.88" width="6.20" height="39.82" fill="#0000ff" stroke="#111" stroke-width="0.8" />
<line x1="362.90" y1="145.88" x2="362.90" y2="144.96" stroke="#222" stroke-width="0.9"/>
<line x1="360.70" y1="144.96" x2="365.10" y2="144.96" stroke="#222" stroke-width="0.9"/>
<text x="362.90" y="146.26" font-size="11" text-anchor="middle" font-weight="normal" fill="#1f1fe0" style="color:#1f1fe0" >***</text>
<rect x="370.15" y="138.47" width="6.20" height="47.23" fill="#00ee00" stroke="#111" stroke-width="0.8" />
<line x1="373.25" y1="138.47" x2="373.25" y2="134.77" stroke="#222" stroke-width="0.9"/>
<line x1="371.05" y1="134.77" x2="375.45" y2="134.77" stroke="#222" stroke-width="0.9"/>
<text x="373.25" y="136.07" font-size="11" text-anchor="middle" font-weight="normal" fill="#1a8a2a" style="color:#1a8a2a" >**</text>
<polyline points="342.20,90.60 342.20,52.20 352.55,52.20 352.55,58.42" fill="none" stroke="#333" stroke-width="1.0"/>
<polyline points="342.20,49.20 342.20,45.70 362.90,45.70 362.90,134.36" fill="none" stroke="#333" stroke-width="1.0"/>
<polyline points="352.55,42.70 352.55,36.60 373.25,36.60 373.25,124.17" fill="none" stroke="#333" stroke-width="1.0"/>
<line x1="357.73" y1="185.70" x2="357.73" y2="190.70" stroke="#222" stroke-width="1.2"/>
<rect x="387.20" y="93.10" width="6.20" height="92.60" fill="#000" stroke="#111" stroke-width="0.8" />
<rect x="397.55" y="112.55" width="6.20" height="73.15" fill="#ff0000" stroke="#111" stroke-width="0.8" />
<line x1="400.65" y1="112.55" x2="400.65" y2="108.84" stroke="#222" stroke-width="0.9"/>
<line x1="398.45" y1="108.84" x2="402.85" y2="108.84" stroke="#222" stroke-width="0.9"/>
<text x="400.65" y="110.14" font-size="11" text-anchor="middle" font-weight="normal" fill="#ff2020" style="color:#ff2020" >*</text>
<rect x="407.90" y="129.21" width="6.20" height="56.49" fill="#0000ff" stroke="#111" stroke-width="0.8" />
<line x1="411.00" y1="129.21" x2="411.00" y2="127.82" stroke="#222" stroke-width="0.9"/>
<line x1="408.80" y1="127.82" x2="413.20" y2="127.82" stroke="#222" stroke-width="0.9"/>
<text x="411.00" y="129.12" font-size="11" text-anchor="middle" font-weight="normal" fill="#1f1fe0" style="color:#1f1fe0" >**</text>
<rect x="418.25" y="134.77" width="6.20" height="50.93" fill="#00ee00" stroke="#111" stroke-width="0.8" />
<line x1="421.35" y1="134.77" x2="421.35" y2="131.99" stroke="#222" stroke-width="0.9"/>
<line x1="419.15" y1="131.99" x2="423.55" y2="131.99" stroke="#222" stroke-width="0.9"/>
<text x="421.35" y="133.29" font-size="11" text-anchor="middle" font-weight="normal" fill="#1a8a2a" style="color:#1a8a2a" >*</text>
<polyline points="390.30,90.60 390.30,89.40 400.65,89.40 400.65,98.24" fill="none" stroke="#333" stroke-width="1.0"/>
<polyline points="390.30,86.40 390.30,84.70 411.00,84.70 411.00,117.22" fill="none" stroke="#333" stroke-width="1.0"/>
<polyline points="400.65,81.70 400.65,80.20 421.35,80.20 421.35,121.39" fill="none" stroke="#333" stroke-width="1.0"/>
<line x1="405.82" y1="185.70" x2="405.82" y2="190.70" stroke="#222" stroke-width="1.2"/>
<rect x="434.50" y="93.10" width="6.20" height="92.60" fill="#000" stroke="#111" stroke-width="0.8" />
<rect x="444.85" y="116.25" width="6.20" height="69.45" fill="#ff0000" stroke="#111" stroke-width="0.8" />
<line x1="447.95" y1="116.25" x2="447.95" y2="112.55" stroke="#222" stroke-width="0.9"/>
<line x1="445.75" y1="112.55" x2="450.15" y2="112.55" stroke="#222" stroke-width="0.9"/>
<text x="447.95" y="113.85" font-size="11" text-anchor="middle" font-weight="normal" fill="#ff2020" style="color:#ff2020" >*</text>
<rect x="455.20" y="156.07" width="6.20" height="29.63" fill="#0000ff" stroke="#111" stroke-width="0.8" />
<line x1="458.30" y1="156.07" x2="458.30" y2="152.36" stroke="#222" stroke-width="0.9"/>
<line x1="456.10" y1="152.36" x2="460.50" y2="152.36" stroke="#222" stroke-width="0.9"/>
<text x="458.30" y="153.66" font-size="11" text-anchor="middle" font-weight="normal" fill="#1f1fe0" style="color:#1f1fe0" >**</text>
<rect x="465.55" y="169.96" width="6.20" height="15.74" fill="#00ee00" stroke="#111" stroke-width="0.8" />
<line x1="468.65" y1="169.96" x2="468.65" y2="167.18" stroke="#222" stroke-width="0.9"/>
<line x1="466.45" y1="167.18" x2="470.85" y2="167.18" stroke="#222" stroke-width="0.9"/>
<text x="468.65" y="168.48" font-size="11" text-anchor="middle" font-weight="normal" fill="#1a8a2a" style="color:#1a8a2a" >**</text>
<polyline points="437.60,90.60 437.60,87.00 447.95,87.00 447.95,101.95" fill="none" stroke="#333" stroke-width="1.0"/>
<polyline points="437.60,84.00 437.60,78.50 458.30,78.50 458.30,141.76" fill="none" stroke="#333" stroke-width="1.0"/>
<polyline points="447.95,75.50 447.95,72.30 468.65,72.30 468.65,156.58" fill="none" stroke="#333" stroke-width="1.0"/>
<line x1="453.12" y1="185.70" x2="453.12" y2="190.70" stroke="#222" stroke-width="1.2"/>
<rect x="482.20" y="93.10" width="6.20" height="92.60" fill="#000" stroke="#111" stroke-width="0.8" />
<rect x="492.55" y="77.36" width="6.20" height="108.34" fill="#ff0000" stroke="#111" stroke-width="0.8" />
<line x1="495.65" y1="77.36" x2="495.65" y2="75.51" stroke="#222" stroke-width="0.9"/>
<line x1="493.45" y1="75.51" x2="497.85" y2="75.51" stroke="#222" stroke-width="0.9"/>
<text x="495.65" y="76.81" font-size="11" text-anchor="middle" font-weight="normal" fill="#ff2020" style="color:#ff2020" >**</text>
<rect x="502.90" y="121.81" width="6.20" height="63.89" fill="#0000ff" stroke="#111" stroke-width="0.8" />
<line x1="506.00" y1="121.81" x2="506.00" y2="119.03" stroke="#222" stroke-width="0.9"/>
<line x1="503.80" y1="119.03" x2="508.20" y2="119.03" stroke="#222" stroke-width="0.9"/>
<text x="506.00" y="120.33" font-size="11" text-anchor="middle" font-weight="normal" fill="#1f1fe0" style="color:#1f1fe0" >**</text>
<rect x="513.25" y="124.58" width="6.20" height="61.12" fill="#00ee00" stroke="#111" stroke-width="0.8" />
<line x1="516.35" y1="124.58" x2="516.35" y2="119.03" stroke="#222" stroke-width="0.9"/>
<line x1="514.15" y1="119.03" x2="518.55" y2="119.03" stroke="#222" stroke-width="0.9"/>
<text x="516.35" y="120.33" font-size="11" text-anchor="middle" font-weight="normal" fill="#1a8a2a" style="color:#1a8a2a" >**</text>
<polyline points="485.30,90.60 485.30,64.40 495.65,64.40 495.65,64.91" fill="none" stroke="#333" stroke-width="1.0"/>
<polyline points="485.30,61.40 485.30,58.00 506.00,58.00 506.00,108.43" fill="none" stroke="#333" stroke-width="1.0"/>
<polyline points="495.65,55.00 495.65,53.20 516.35,53.20 516.35,108.43" fill="none" stroke="#333" stroke-width="1.0"/>
<line x1="500.82" y1="185.70" x2="500.82" y2="190.70" stroke="#222" stroke-width="1.2"/>
<rect x="529.40" y="93.10" width="6.20" height="92.60" fill="#000" stroke="#111" stroke-width="0.8" />
<rect x="539.75" y="107.92" width="6.20" height="77.78" fill="#ff0000" stroke="#111" stroke-width="0.8" />
<line x1="542.85" y1="107.92" x2="542.85" y2="106.99" stroke="#222" stroke-width="0.9"/>
<line x1="540.65" y1="106.99" x2="545.05" y2="106.99" stroke="#222" stroke-width="0.9"/>
<text x="542.85" y="108.29" font-size="11" text-anchor="middle" font-weight="normal" fill="#ff2020" style="color:#ff2020" >**</text>
<rect x="550.10" y="106.06" width="6.20" height="79.64" fill="#0000ff" stroke="#111" stroke-width="0.8" />
<line x1="553.20" y1="106.06" x2="553.20" y2="104.21" stroke="#222" stroke-width="0.9"/>
<line x1="551.00" y1="104.21" x2="555.40" y2="104.21" stroke="#222" stroke-width="0.9"/>
<text x="553.20" y="105.51" font-size="11" text-anchor="middle" font-weight="normal" fill="#1f1fe0" style="color:#1f1fe0" >**</text>
<rect x="560.45" y="121.81" width="6.20" height="63.89" fill="#00ee00" stroke="#111" stroke-width="0.8" />
<line x1="563.55" y1="121.81" x2="563.55" y2="118.10" stroke="#222" stroke-width="0.9"/>
<line x1="561.35" y1="118.10" x2="565.75" y2="118.10" stroke="#222" stroke-width="0.9"/>
<text x="563.55" y="119.40" font-size="11" text-anchor="middle" font-weight="normal" fill="#1a8a2a" style="color:#1a8a2a" >**</text>
<polyline points="532.50,90.60 532.50,89.20 542.85,89.20 542.85,96.39" fill="none" stroke="#333" stroke-width="1.0"/>
<polyline points="532.50,86.20 532.50,84.70 553.20,84.70 553.20,93.61" fill="none" stroke="#333" stroke-width="1.0"/>
<polyline points="542.85,81.70 542.85,79.30 563.55,79.30 563.55,107.50" fill="none" stroke="#333" stroke-width="1.0"/>
<line x1="548.02" y1="185.70" x2="548.02" y2="190.70" stroke="#222" stroke-width="1.2"/>
<rect x="577.40" y="93.10" width="6.20" height="92.60" fill="#000" stroke="#111" stroke-width="0.8" />
<rect x="587.75" y="124.58" width="6.20" height="61.12" fill="#ff0000" stroke="#111" stroke-width="0.8" />
<line x1="590.85" y1="124.58" x2="590.85" y2="120.88" stroke="#222" stroke-width="0.9"/>
<line x1="588.65" y1="120.88" x2="593.05" y2="120.88" stroke="#222" stroke-width="0.9"/>
<text x="590.85" y="122.18" font-size="11" text-anchor="middle" font-weight="normal" fill="#ff2020" style="color:#ff2020" >**</text>
<rect x="598.10" y="144.03" width="6.20" height="41.67" fill="#0000ff" stroke="#111" stroke-width="0.8" />
<line x1="601.20" y1="144.03" x2="601.20" y2="140.33" stroke="#222" stroke-width="0.9"/>
<line x1="599.00" y1="140.33" x2="603.40" y2="140.33" stroke="#222" stroke-width="0.9"/>
<text x="601.20" y="141.63" font-size="11" text-anchor="middle" font-weight="normal" fill="#1f1fe0" style="color:#1f1fe0" >**</text>
<rect x="608.45" y="164.40" width="6.20" height="21.30" fill="#00ee00" stroke="#111" stroke-width="0.8" />
<line x1="611.55" y1="164.40" x2="611.55" y2="160.70" stroke="#222" stroke-width="0.9"/>
<line x1="609.35" y1="160.70" x2="613.75" y2="160.70" stroke="#222" stroke-width="0.9"/>
<text x="611.55" y="162.00" font-size="11" text-anchor="middle" font-weight="normal" fill="#1a8a2a" style="color:#1a8a2a" >**</text>
<polyline points="580.50,90.60 580.50,89.70 590.85,89.70 590.85,110.28" fill="none" stroke="#333" stroke-width="1.0"/>
<polyline points="580.50,86.70 580.50,84.50 601.20,84.50 601.20,129.73" fill="none" stroke="#333" stroke-width="1.0"/>
<polyline points="590.85,81.50 590.85,79.30 611.55,79.30 611.55,150.10" fill="none" stroke="#333" stroke-width="1.0"/>
<line x1="596.02" y1="185.70" x2="596.02" y2="190.70" stroke="#222" stroke-width="1.2"/>
<text x="357.73" y="200.00" font-size="10.6" text-anchor="middle" font-weight="normal" fill="#1a1a1a" style="color:#1a1a1a" >TRAP1</text>
<text x="405.82" y="200.00" font-size="10.6" text-anchor="middle" font-weight="normal" fill="#1a1a1a" style="color:#1a1a1a" >SDHB</text>
<text x="453.12" y="200.00" font-size="10.6" text-anchor="middle" font-weight="normal" fill="#1a1a1a" style="color:#1a1a1a" >COX-IV</text>
<text x="500.82" y="200.00" font-size="10.6" text-anchor="middle" font-weight="normal" fill="#1a1a1a" style="color:#1a1a1a" >TRAP1</text>
<text x="548.02" y="200.00" font-size="10.6" text-anchor="middle" font-weight="normal" fill="#1a1a1a" style="color:#1a1a1a" >SDHB</text>
<text x="596.02" y="200.00" font-size="10.6" text-anchor="middle" font-weight="normal" fill="#1a1a1a" style="color:#1a1a1a" >COX-IV</text>
<text x="406.50" y="217.00" font-size="10.6" text-anchor="middle" font-weight="normal" fill="#1a1a1a" style="color:#1a1a1a" >Normoxia Glucose 25mM</text>
<text x="545.20" y="217.00" font-size="10.6" text-anchor="middle" font-weight="normal" fill="#1a1a1a" style="color:#1a1a1a" >Hypoxia Glucose 5mM</text>
<text x="302.60" y="105.50" font-size="10.8" text-anchor="middle" font-weight="normal" fill="#1a1a1a" style="color:#1a1a1a" transform="rotate(-90 302.6 105.5)">Relative Expression</text>
<rect x="329.20" y="24.30" width="8.20" height="5.20" fill="#000" />
<text x="340.20" y="30.50" font-size="10.6" text-anchor="start" font-weight="normal" fill="#1a1a1a" style="color:#1a1a1a" >Control</text>
<rect x="378.00" y="24.30" width="8.20" height="5.20" fill="#ff0000" />
<text x="389.00" y="30.50" font-size="10.6" text-anchor="start" font-weight="normal" fill="#1a1a1a" style="color:#1a1a1a" >C210</text>
<rect x="419.30" y="24.30" width="8.20" height="5.20" fill="#0000ff" />
<text x="430.30" y="30.50" font-size="10.6" text-anchor="start" font-weight="normal" fill="#1a1a1a" style="color:#1a1a1a" >siRNA TRAP1</text>
<rect x="502.30" y="24.30" width="8.20" height="5.20" fill="#00ee00" />
<text x="513.30" y="30.50" font-size="10.6" text-anchor="start" font-weight="normal" fill="#1a1a1a" style="color:#1a1a1a" >siRNA TRAP1+C210</text>
<line x1="333.10" y1="270.00" x2="333.10" y2="418.10" stroke="#222" stroke-width="1.2"/>
<line x1="332.50" y1="417.60" x2="620.00" y2="417.60" stroke="#222" stroke-width="1.2"/>
<line x1="327.10" y1="417.60" x2="333.10" y2="417.60" stroke="#222" stroke-width="1.2"/>
<text x="324.60" y="421.30" font-size="10.3" text-anchor="end" font-weight="normal" fill="#1a1a1a" style="color:#1a1a1a" >0.0</text>
<line x1="327.10" y1="368.40" x2="333.10" y2="368.40" stroke="#222" stroke-width="1.2"/>
<text x="324.60" y="372.10" font-size="10.3" text-anchor="end" font-weight="normal" fill="#1a1a1a" style="color:#1a1a1a" >0.5</text>
<line x1="327.10" y1="319.20" x2="333.10" y2="319.20" stroke="#222" stroke-width="1.2"/>
<text x="324.60" y="322.90" font-size="10.3" text-anchor="end" font-weight="normal" fill="#1a1a1a" style="color:#1a1a1a" >1.0</text>
<line x1="327.10" y1="270.00" x2="333.10" y2="270.00" stroke="#222" stroke-width="1.2"/>
<text x="324.60" y="273.70" font-size="10.3" text-anchor="end" font-weight="normal" fill="#1a1a1a" style="color:#1a1a1a" >1.5</text>
<rect x="336.50" y="319.20" width="6.20" height="98.40" fill="#000" stroke="#111" stroke-width="0.8" />
<rect x="347.10" y="314.28" width="6.20" height="103.32" fill="#ff0000" stroke="#111" stroke-width="0.8" />
<line x1="350.20" y1="314.28" x2="350.20" y2="307.39" stroke="#222" stroke-width="0.9"/>
<line x1="348.00" y1="307.39" x2="352.40" y2="307.39" stroke="#222" stroke-width="0.9"/>
<text x="350.20" y="305.39" font-size="9.6" text-anchor="middle" font-weight="bold" fill="#ff2020" style="color:#ff2020" letter-spacing="-0.3">ns</text>
<rect x="357.70" y="385.13" width="6.20" height="32.47" fill="#0000ff" stroke="#111" stroke-width="0.8" />
<line x1="360.80" y1="385.13" x2="360.80" y2="379.22" stroke="#222" stroke-width="0.9"/>
<line x1="358.60" y1="379.22" x2="363.00" y2="379.22" stroke="#222" stroke-width="0.9"/>
<text x="360.80" y="380.52" font-size="11" text-anchor="middle" font-weight="normal" fill="#1f1fe0" style="color:#1f1fe0" >**</text>
<rect x="368.30" y="346.75" width="6.20" height="70.85" fill="#00ee00" stroke="#111" stroke-width="0.8" />
<line x1="371.40" y1="346.75" x2="371.40" y2="341.83" stroke="#222" stroke-width="0.9"/>
<line x1="369.20" y1="341.83" x2="373.60" y2="341.83" stroke="#222" stroke-width="0.9"/>
<text x="371.40" y="343.13" font-size="11" text-anchor="middle" font-weight="normal" fill="#1a8a2a" style="color:#1a8a2a" >*</text>
<polyline points="339.60,316.70 339.60,293.40 350.20,293.40 350.20,297.09" fill="none" stroke="#333" stroke-width="1.0"/>
<polyline points="339.60,290.40 339.60,284.50 360.80,284.50 360.80,368.62" fill="none" stroke="#333" stroke-width="1.0"/>
<polyline points="350.20,281.50 350.20,279.10 371.40,279.10 371.40,331.23" fill="none" stroke="#333" stroke-width="1.0"/>
<line x1="355.50" y1="417.60" x2="355.50" y2="423.60" stroke="#222" stroke-width="1.2"/>
<rect x="384.80" y="319.20" width="6.20" height="98.40" fill="#000" stroke="#111" stroke-width="0.8" />
<rect x="395.40" y="286.73" width="6.20" height="130.87" fill="#ff0000" stroke="#111" stroke-width="0.8" />
<line x1="398.50" y1="286.73" x2="398.50" y2="280.82" stroke="#222" stroke-width="0.9"/>
<line x1="396.30" y1="280.82" x2="400.70" y2="280.82" stroke="#222" stroke-width="0.9"/>
<text x="398.50" y="282.12" font-size="11" text-anchor="middle" font-weight="normal" fill="#ff2020" style="color:#ff2020" >*</text>
<rect x="406.00" y="343.80" width="6.20" height="73.80" fill="#0000ff" stroke="#111" stroke-width="0.8" />
<line x1="409.10" y1="343.80" x2="409.10" y2="340.85" stroke="#222" stroke-width="0.9"/>
<line x1="406.90" y1="340.85" x2="411.30" y2="340.85" stroke="#222" stroke-width="0.9"/>
<text x="409.10" y="342.15" font-size="11" text-anchor="middle" font-weight="normal" fill="#1f1fe0" style="color:#1f1fe0" >**</text>
<rect x="416.60" y="351.67" width="6.20" height="65.93" fill="#00ee00" stroke="#111" stroke-width="0.8" />
<line x1="419.70" y1="351.67" x2="419.70" y2="348.72" stroke="#222" stroke-width="0.9"/>
<line x1="417.50" y1="348.72" x2="421.90" y2="348.72" stroke="#222" stroke-width="0.9"/>
<text x="419.70" y="350.02" font-size="11" text-anchor="middle" font-weight="normal" fill="#1a8a2a" style="color:#1a8a2a" >**</text>
<polyline points="387.90,316.70 387.90,267.70 398.50,267.70 398.50,270.22" fill="none" stroke="#333" stroke-width="1.0"/>
<polyline points="387.90,264.70 387.90,261.80 409.10,261.80 409.10,330.25" fill="none" stroke="#333" stroke-width="1.0"/>
<polyline points="398.50,258.80 398.50,257.60 419.70,257.60 419.70,338.12" fill="none" stroke="#333" stroke-width="1.0"/>
<line x1="403.80" y1="417.60" x2="403.80" y2="423.60" stroke="#222" stroke-width="1.2"/>
<rect x="433.20" y="319.20" width="6.20" height="98.40" fill="#000" stroke="#111" stroke-width="0.8" />
<rect x="443.80" y="287.71" width="6.20" height="129.89" fill="#ff0000" stroke="#111" stroke-width="0.8" />
<line x1="446.90" y1="287.71" x2="446.90" y2="280.82" stroke="#222" stroke-width="0.9"/>
<line x1="444.70" y1="280.82" x2="449.10" y2="280.82" stroke="#222" stroke-width="0.9"/>
<text x="446.90" y="282.12" font-size="11" text-anchor="middle" font-weight="normal" fill="#ff2020" style="color:#ff2020" >*</text>
<rect x="454.40" y="337.90" width="6.20" height="79.70" fill="#0000ff" stroke="#111" stroke-width="0.8" />
<line x1="457.50" y1="337.90" x2="457.50" y2="332.98" stroke="#222" stroke-width="0.9"/>
<line x1="455.30" y1="332.98" x2="459.70" y2="332.98" stroke="#222" stroke-width="0.9"/>
<text x="457.50" y="334.28" font-size="11" text-anchor="middle" font-weight="normal" fill="#1f1fe0" style="color:#1f1fe0" >*</text>
<rect x="465.00" y="343.80" width="6.20" height="73.80" fill="#00ee00" stroke="#111" stroke-width="0.8" />
<line x1="468.10" y1="343.80" x2="468.10" y2="337.90" stroke="#222" stroke-width="0.9"/>
<line x1="465.90" y1="337.90" x2="470.30" y2="337.90" stroke="#222" stroke-width="0.9"/>
<text x="468.10" y="339.20" font-size="11" text-anchor="middle" font-weight="normal" fill="#1a8a2a" style="color:#1a8a2a" >*</text>
<polyline points="436.30,316.70 436.30,270.50 446.90,270.50 446.90,270.22" fill="none" stroke="#333" stroke-width="1.0"/>
<polyline points="436.30,267.50 436.30,261.40 457.50,261.40 457.50,322.38" fill="none" stroke="#333" stroke-width="1.0"/>
<polyline points="446.90,258.40 446.90,254.20 468.10,254.20 468.10,327.30" fill="none" stroke="#333" stroke-width="1.0"/>
<line x1="452.20" y1="417.60" x2="452.20" y2="423.60" stroke="#222" stroke-width="1.2"/>
<rect x="481.80" y="319.20" width="6.20" height="98.40" fill="#000" stroke="#111" stroke-width="0.8" />
<rect x="492.40" y="301.49" width="6.20" height="116.11" fill="#ff0000" stroke="#111" stroke-width="0.8" />
<line x1="495.50" y1="301.49" x2="495.50" y2="297.55" stroke="#222" stroke-width="0.9"/>
<line x1="493.30" y1="297.55" x2="497.70" y2="297.55" stroke="#222" stroke-width="0.9"/>
<text x="495.50" y="298.85" font-size="11" text-anchor="middle" font-weight="normal" fill="#ff2020" style="color:#ff2020" >*</text>
<rect x="503.00" y="388.08" width="6.20" height="29.52" fill="#0000ff" stroke="#111" stroke-width="0.8" />
<line x1="506.10" y1="388.08" x2="506.10" y2="381.19" stroke="#222" stroke-width="0.9"/>
<line x1="503.90" y1="381.19" x2="508.30" y2="381.19" stroke="#222" stroke-width="0.9"/>
<text x="506.10" y="382.49" font-size="11" text-anchor="middle" font-weight="normal" fill="#1f1fe0" style="color:#1f1fe0" >**</text>
<rect x="513.60" y="365.45" width="6.20" height="52.15" fill="#00ee00" stroke="#111" stroke-width="0.8" />
<line x1="516.70" y1="365.45" x2="516.70" y2="359.54" stroke="#222" stroke-width="0.9"/>
<line x1="514.50" y1="359.54" x2="518.90" y2="359.54" stroke="#222" stroke-width="0.9"/>
<text x="516.70" y="360.84" font-size="11" text-anchor="middle" font-weight="normal" fill="#1a8a2a" style="color:#1a8a2a" >**</text>
<polyline points="484.90,316.70 484.90,284.90 495.50,284.90 495.50,286.95" fill="none" stroke="#333" stroke-width="1.0"/>
<polyline points="484.90,281.90 484.90,276.50 506.10,276.50 506.10,370.59" fill="none" stroke="#333" stroke-width="1.0"/>
<polyline points="495.50,273.50 495.50,270.40 516.70,270.40 516.70,348.94" fill="none" stroke="#333" stroke-width="1.0"/>
<line x1="500.80" y1="417.60" x2="500.80" y2="423.60" stroke="#222" stroke-width="1.2"/>
<rect x="530.60" y="319.20" width="6.20" height="98.40" fill="#000" stroke="#111" stroke-width="0.8" />
<rect x="541.20" y="346.75" width="6.20" height="70.85" fill="#ff0000" stroke="#111" stroke-width="0.8" />
<line x1="544.30" y1="346.75" x2="544.30" y2="343.80" stroke="#222" stroke-width="0.9"/>
<line x1="542.10" y1="343.80" x2="546.50" y2="343.80" stroke="#222" stroke-width="0.9"/>
<text x="544.30" y="345.10" font-size="11" text-anchor="middle" font-weight="normal" fill="#ff2020" style="color:#ff2020" >**</text>
<rect x="551.80" y="352.66" width="6.20" height="64.94" fill="#0000ff" stroke="#111" stroke-width="0.8" />
<line x1="554.90" y1="352.66" x2="554.90" y2="351.67" stroke="#222" stroke-width="0.9"/>
<line x1="552.70" y1="351.67" x2="557.10" y2="351.67" stroke="#222" stroke-width="0.9"/>
<text x="554.90" y="352.97" font-size="11" text-anchor="middle" font-weight="normal" fill="#1f1fe0" style="color:#1f1fe0" >***</text>
<rect x="562.40" y="360.53" width="6.20" height="57.07" fill="#00ee00" stroke="#111" stroke-width="0.8" />
<line x1="565.50" y1="360.53" x2="565.50" y2="357.58" stroke="#222" stroke-width="0.9"/>
<line x1="563.30" y1="357.58" x2="567.70" y2="357.58" stroke="#222" stroke-width="0.9"/>
<text x="565.50" y="358.88" font-size="11" text-anchor="middle" font-weight="normal" fill="#1a8a2a" style="color:#1a8a2a" >*</text>
<polyline points="533.70,316.70 533.70,313.50 544.30,313.50 544.30,333.20" fill="none" stroke="#333" stroke-width="1.0"/>
<polyline points="533.70,310.50 533.70,309.20 554.90,309.20 554.90,341.07" fill="none" stroke="#333" stroke-width="1.0"/>
<polyline points="544.30,306.20 544.30,301.80 565.50,301.80 565.50,346.98" fill="none" stroke="#333" stroke-width="1.0"/>
<line x1="549.60" y1="417.60" x2="549.60" y2="423.60" stroke="#222" stroke-width="1.2"/>
<rect x="579.40" y="319.20" width="6.20" height="98.40" fill="#000" stroke="#111" stroke-width="0.8" />
<rect x="590.00" y="342.82" width="6.20" height="74.78" fill="#ff0000" stroke="#111" stroke-width="0.8" />
<line x1="593.10" y1="342.82" x2="593.10" y2="340.85" stroke="#222" stroke-width="0.9"/>
<line x1="590.90" y1="340.85" x2="595.30" y2="340.85" stroke="#222" stroke-width="0.9"/>
<text x="593.10" y="342.15" font-size="11" text-anchor="middle" font-weight="normal" fill="#ff2020" style="color:#ff2020" >**</text>
<rect x="600.60" y="361.51" width="6.20" height="56.09" fill="#0000ff" stroke="#111" stroke-width="0.8" />
<line x1="603.70" y1="361.51" x2="603.70" y2="358.56" stroke="#222" stroke-width="0.9"/>
<line x1="601.50" y1="358.56" x2="605.90" y2="358.56" stroke="#222" stroke-width="0.9"/>
<text x="603.70" y="359.86" font-size="11" text-anchor="middle" font-weight="normal" fill="#1f1fe0" style="color:#1f1fe0" >**</text>
<rect x="611.20" y="386.11" width="6.20" height="31.49" fill="#00ee00" stroke="#111" stroke-width="0.8" />
<line x1="614.30" y1="386.11" x2="614.30" y2="383.16" stroke="#222" stroke-width="0.9"/>
<line x1="612.10" y1="383.16" x2="616.50" y2="383.16" stroke="#222" stroke-width="0.9"/>
<text x="614.30" y="384.46" font-size="11" text-anchor="middle" font-weight="normal" fill="#1a8a2a" style="color:#1a8a2a" >**</text>
<polyline points="582.50,316.70 582.50,312.50 593.10,312.50 593.10,330.25" fill="none" stroke="#333" stroke-width="1.0"/>
<polyline points="582.50,309.50 582.50,303.80 603.70,303.80 603.70,347.96" fill="none" stroke="#333" stroke-width="1.0"/>
<polyline points="593.10,300.80 593.10,300.40 614.30,300.40 614.30,372.56" fill="none" stroke="#333" stroke-width="1.0"/>
<line x1="598.40" y1="417.60" x2="598.40" y2="423.60" stroke="#222" stroke-width="1.2"/>
<text x="355.50" y="433.70" font-size="10.6" text-anchor="middle" font-weight="normal" fill="#1a1a1a" style="color:#1a1a1a" >TRAP1</text>
<text x="403.80" y="433.70" font-size="10.6" text-anchor="middle" font-weight="normal" fill="#1a1a1a" style="color:#1a1a1a" >SDHB</text>
<text x="452.20" y="433.70" font-size="10.6" text-anchor="middle" font-weight="normal" fill="#1a1a1a" style="color:#1a1a1a" >COX-IV</text>
<text x="500.80" y="433.70" font-size="10.6" text-anchor="middle" font-weight="normal" fill="#1a1a1a" style="color:#1a1a1a" >TRAP1</text>
<text x="549.60" y="433.70" font-size="10.6" text-anchor="middle" font-weight="normal" fill="#1a1a1a" style="color:#1a1a1a" >SDHB</text>
<text x="598.40" y="433.70" font-size="10.6" text-anchor="middle" font-weight="normal" fill="#1a1a1a" style="color:#1a1a1a" >COX-IV</text>
<text x="406.90" y="454.40" font-size="10.6" text-anchor="middle" font-weight="normal" fill="#1a1a1a" style="color:#1a1a1a" >Normoxia Glucose 25mM</text>
<text x="545.60" y="454.40" font-size="10.6" text-anchor="middle" font-weight="normal" fill="#1a1a1a" style="color:#1a1a1a" >Hypoxia Glucose 5mM</text>
<text x="301.00" y="340.00" font-size="10.8" text-anchor="middle" font-weight="normal" fill="#1a1a1a" style="color:#1a1a1a" transform="rotate(-90 301 340)">Relative Expression</text>
<rect x="325.90" y="243.80" width="8.20" height="5.20" fill="#000" />
<text x="336.90" y="250.00" font-size="10.7" text-anchor="start" font-weight="normal" fill="#1a1a1a" style="color:#1a1a1a" >Control</text>
<rect x="374.40" y="243.80" width="8.20" height="5.20" fill="#ff0000" />
<text x="385.40" y="250.00" font-size="10.7" text-anchor="start" font-weight="normal" fill="#1a1a1a" style="color:#1a1a1a" >C210</text>
<rect x="415.70" y="243.80" width="8.20" height="5.20" fill="#0000ff" />
<text x="426.70" y="250.00" font-size="10.7" text-anchor="start" font-weight="normal" fill="#1a1a1a" style="color:#1a1a1a" >siRNA TRAP1</text>
<rect x="498.60" y="243.80" width="8.20" height="5.20" fill="#00ee00" />
<text x="509.60" y="250.00" font-size="10.7" text-anchor="start" font-weight="normal" fill="#1a1a1a" style="color:#1a1a1a" >siRNA TRAP1+C210</text>
<line x1="670.40" y1="202.30" x2="670.40" y2="342.80" stroke="#222" stroke-width="1.2"/>
<line x1="669.80" y1="342.30" x2="883.20" y2="342.30" stroke="#222" stroke-width="1.2"/>
<line x1="664.40" y1="342.30" x2="670.40" y2="342.30" stroke="#222" stroke-width="1.2"/>
<text x="661.90" y="346.00" font-size="10.3" text-anchor="end" font-weight="normal" fill="#1a1a1a" style="color:#1a1a1a" >0.0</text>
<line x1="664.40" y1="307.30" x2="670.40" y2="307.30" stroke="#222" stroke-width="1.2"/>
<text x="661.90" y="311.00" font-size="10.3" text-anchor="end" font-weight="normal" fill="#1a1a1a" style="color:#1a1a1a" >0.5</text>
<line x1="664.40" y1="272.30" x2="670.40" y2="272.30" stroke="#222" stroke-width="1.2"/>
<text x="661.90" y="276.00" font-size="10.3" text-anchor="end" font-weight="normal" fill="#1a1a1a" style="color:#1a1a1a" >1.0</text>
<line x1="664.40" y1="237.30" x2="670.40" y2="237.30" stroke="#222" stroke-width="1.2"/>
<text x="661.90" y="241.00" font-size="10.3" text-anchor="end" font-weight="normal" fill="#1a1a1a" style="color:#1a1a1a" >1.5</text>
<line x1="664.40" y1="202.30" x2="670.40" y2="202.30" stroke="#222" stroke-width="1.2"/>
<text x="661.90" y="206.00" font-size="10.3" text-anchor="end" font-weight="normal" fill="#1a1a1a" style="color:#1a1a1a" >2.0</text>
<rect x="675.10" y="272.30" width="7.20" height="70.00" fill="#000" stroke="#111" stroke-width="0.8" />
<rect x="686.50" y="280.00" width="7.20" height="62.30" fill="#f04040" stroke="#111" stroke-width="0.8" />
<line x1="690.10" y1="280.00" x2="690.10" y2="279.30" stroke="#222" stroke-width="0.9"/>
<line x1="687.90" y1="279.30" x2="692.30" y2="279.30" stroke="#222" stroke-width="0.9"/>
<text x="690.10" y="279.70" font-size="11" text-anchor="middle" font-weight="normal" fill="#ff2020" style="color:#ff2020" >**</text>
<rect x="697.90" y="265.65" width="7.20" height="76.65" fill="#0000ff" stroke="#111" stroke-width="0.8" />
<line x1="701.50" y1="265.65" x2="701.50" y2="261.45" stroke="#222" stroke-width="0.9"/>
<line x1="699.30" y1="261.45" x2="703.70" y2="261.45" stroke="#222" stroke-width="0.9"/>
<text x="701.50" y="259.45" font-size="9.6" text-anchor="middle" font-weight="bold" fill="#1f1fe0" style="color:#1f1fe0" letter-spacing="-0.3">ns</text>
<rect x="709.30" y="259.00" width="7.20" height="83.30" fill="#00ee00" stroke="#111" stroke-width="0.8" />
<line x1="712.90" y1="259.00" x2="712.90" y2="255.50" stroke="#222" stroke-width="0.9"/>
<line x1="710.70" y1="255.50" x2="715.10" y2="255.50" stroke="#222" stroke-width="0.9"/>
<text x="712.90" y="255.90" font-size="11" text-anchor="middle" font-weight="normal" fill="#1a8a2a" style="color:#1a8a2a" >*</text>
<polyline points="678.70,264.30 678.70,256.30 690.10,256.30 690.10,268.50" fill="none" stroke="#333" stroke-width="1.0"/>
<polyline points="678.70,253.30 678.70,242.80 701.50,242.80 701.50,251.85" fill="none" stroke="#333" stroke-width="1.0"/>
<polyline points="690.10,239.80 690.10,230.70 712.90,230.70 712.90,244.70" fill="none" stroke="#333" stroke-width="1.0"/>
<line x1="695.40" y1="342.30" x2="695.40" y2="348.30" stroke="#222" stroke-width="1.2"/>
<rect x="728.40" y="272.30" width="7.20" height="70.00" fill="#000" stroke="#111" stroke-width="0.8" />
<rect x="739.80" y="286.58" width="7.20" height="55.72" fill="#f04040" stroke="#111" stroke-width="0.8" />
<line x1="743.40" y1="286.58" x2="743.40" y2="285.88" stroke="#222" stroke-width="0.9"/>
<line x1="741.20" y1="285.88" x2="745.60" y2="285.88" stroke="#222" stroke-width="0.9"/>
<text x="743.40" y="286.28" font-size="11" text-anchor="middle" font-weight="normal" fill="#ff2020" style="color:#ff2020" >**</text>
<rect x="751.20" y="263.41" width="7.20" height="78.89" fill="#0000ff" stroke="#111" stroke-width="0.8" />
<line x1="754.80" y1="263.41" x2="754.80" y2="259.91" stroke="#222" stroke-width="0.9"/>
<line x1="752.60" y1="259.91" x2="757.00" y2="259.91" stroke="#222" stroke-width="0.9"/>
<text x="754.80" y="257.91" font-size="9.6" text-anchor="middle" font-weight="bold" fill="#1f1fe0" style="color:#1f1fe0" letter-spacing="-0.3">ns</text>
<rect x="762.60" y="262.15" width="7.20" height="80.15" fill="#00ee00" stroke="#111" stroke-width="0.8" />
<line x1="766.20" y1="262.15" x2="766.20" y2="259.35" stroke="#222" stroke-width="0.9"/>
<line x1="764.00" y1="259.35" x2="768.40" y2="259.35" stroke="#222" stroke-width="0.9"/>
<text x="766.20" y="259.75" font-size="11" text-anchor="middle" font-weight="normal" fill="#1a8a2a" style="color:#1a8a2a" >**</text>
<polyline points="732.00,268.80 732.00,262.60 743.40,262.60 743.40,275.08" fill="none" stroke="#333" stroke-width="1.0"/>
<polyline points="732.00,259.60 732.00,244.40 754.80,244.40 754.80,250.31" fill="none" stroke="#333" stroke-width="1.0"/>
<polyline points="743.40,241.40 743.40,229.60 766.20,229.60 766.20,248.55" fill="none" stroke="#333" stroke-width="1.0"/>
<line x1="749.50" y1="342.30" x2="749.50" y2="348.30" stroke="#222" stroke-width="1.2"/>
<rect x="783.00" y="272.30" width="7.20" height="70.00" fill="#000" stroke="#111" stroke-width="0.8" />
<rect x="794.40" y="283.99" width="7.20" height="58.31" fill="#f04040" stroke="#111" stroke-width="0.8" />
<line x1="798.00" y1="283.99" x2="798.00" y2="281.89" stroke="#222" stroke-width="0.9"/>
<line x1="795.80" y1="281.89" x2="800.20" y2="281.89" stroke="#222" stroke-width="0.9"/>
<text x="798.00" y="282.29" font-size="11" text-anchor="middle" font-weight="normal" fill="#ff2020" style="color:#ff2020" >*</text>
<rect x="805.80" y="269.22" width="7.20" height="73.08" fill="#0000ff" stroke="#111" stroke-width="0.8" />
<line x1="809.40" y1="269.22" x2="809.40" y2="265.02" stroke="#222" stroke-width="0.9"/>
<line x1="807.20" y1="265.02" x2="811.60" y2="265.02" stroke="#222" stroke-width="0.9"/>
<text x="809.40" y="263.02" font-size="9.6" text-anchor="middle" font-weight="bold" fill="#1f1fe0" style="color:#1f1fe0" letter-spacing="-0.3">ns</text>
<rect x="817.20" y="245.00" width="7.20" height="97.30" fill="#00ee00" stroke="#111" stroke-width="0.8" />
<line x1="820.80" y1="245.00" x2="820.80" y2="240.80" stroke="#222" stroke-width="0.9"/>
<line x1="818.60" y1="240.80" x2="823.00" y2="240.80" stroke="#222" stroke-width="0.9"/>
<text x="820.80" y="241.20" font-size="11" text-anchor="middle" font-weight="normal" fill="#1a8a2a" style="color:#1a8a2a" >**</text>
<polyline points="786.60,268.80 786.60,265.70 798.00,265.70 798.00,271.09" fill="none" stroke="#333" stroke-width="1.0"/>
<polyline points="786.60,262.70 786.60,249.20 809.40,249.20 809.40,255.42" fill="none" stroke="#333" stroke-width="1.0"/>
<polyline points="798.00,246.20 798.00,227.60 820.80,227.60 820.80,230.00" fill="none" stroke="#333" stroke-width="1.0"/>
<line x1="803.30" y1="342.30" x2="803.30" y2="348.30" stroke="#222" stroke-width="1.2"/>
<rect x="837.00" y="272.30" width="7.20" height="70.00" fill="#000" stroke="#111" stroke-width="0.8" />
<rect x="848.40" y="322.00" width="7.20" height="20.30" fill="#f04040" stroke="#111" stroke-width="0.8" />
<line x1="852.00" y1="322.00" x2="852.00" y2="317.10" stroke="#222" stroke-width="0.9"/>
<line x1="849.80" y1="317.10" x2="854.20" y2="317.10" stroke="#222" stroke-width="0.9"/>
<text x="852.00" y="317.50" font-size="11" text-anchor="middle" font-weight="normal" fill="#ff2020" style="color:#ff2020" >**</text>
<rect x="859.80" y="272.30" width="7.20" height="70.00" fill="#0000ff" stroke="#111" stroke-width="0.8" />
<line x1="863.40" y1="272.30" x2="863.40" y2="268.10" stroke="#222" stroke-width="0.9"/>
<line x1="861.20" y1="268.10" x2="865.60" y2="268.10" stroke="#222" stroke-width="0.9"/>
<text x="863.40" y="266.10" font-size="9.6" text-anchor="middle" font-weight="bold" fill="#1f1fe0" style="color:#1f1fe0" letter-spacing="-0.3">ns</text>
<rect x="871.20" y="255.22" width="7.20" height="87.08" fill="#00ee00" stroke="#111" stroke-width="0.8" />
<line x1="874.80" y1="255.22" x2="874.80" y2="249.62" stroke="#222" stroke-width="0.9"/>
<line x1="872.60" y1="249.62" x2="877.00" y2="249.62" stroke="#222" stroke-width="0.9"/>
<text x="874.80" y="250.02" font-size="11" text-anchor="middle" font-weight="normal" fill="#1a8a2a" style="color:#1a8a2a" >**</text>
<polyline points="840.60,268.80 840.60,267.40 852.00,267.40 852.00,306.30" fill="none" stroke="#333" stroke-width="1.0"/>
<polyline points="840.60,264.40 840.60,252.20 863.40,252.20 863.40,258.50" fill="none" stroke="#333" stroke-width="1.0"/>
<polyline points="852.00,249.20 852.00,235.70 874.80,235.70 874.80,238.82" fill="none" stroke="#333" stroke-width="1.0"/>
<line x1="857.30" y1="342.30" x2="857.30" y2="348.30" stroke="#222" stroke-width="1.2"/>
<text x="694.40" y="358.60" font-size="10.8" text-anchor="middle" font-weight="normal" fill="#1a1a1a" style="color:#1a1a1a" >PKM2</text>
<text x="748.50" y="358.60" font-size="10.8" text-anchor="middle" font-weight="normal" fill="#1a1a1a" style="color:#1a1a1a" >SDHB</text>
<text x="802.30" y="358.60" font-size="10.8" text-anchor="middle" font-weight="normal" fill="#1a1a1a" style="color:#1a1a1a" >PKM2</text>
<text x="856.30" y="358.60" font-size="10.8" text-anchor="middle" font-weight="normal" fill="#1a1a1a" style="color:#1a1a1a" >SDHB</text>
<text x="722.30" y="371.20" font-size="10.5" text-anchor="middle" font-weight="bold" fill="#000" style="color:#000" >MCF-7</text>
<text x="832.60" y="371.20" font-size="10.5" text-anchor="middle" font-weight="bold" fill="#000" style="color:#000" >MDA-MB-231</text>
<text x="637.50" y="268.50" font-size="10.8" text-anchor="middle" font-weight="normal" fill="#1a1a1a" style="color:#1a1a1a" transform="rotate(-90 637.5 268.5)">Relative Expression</text>
<rect x="665.40" y="186.80" width="8.20" height="5.40" fill="#000" />
<text x="675.40" y="193.00" font-size="10.7" text-anchor="start" font-weight="normal" fill="#1a1a1a" style="color:#1a1a1a" >Control</text>
<rect x="714.20" y="186.80" width="8.20" height="5.40" fill="#f04040" />
<text x="724.20" y="193.00" font-size="10.7" text-anchor="start" font-weight="normal" fill="#1a1a1a" style="color:#1a1a1a" >C210</text>
<rect x="752.80" y="186.80" width="8.20" height="5.40" fill="#0000ff" />
<text x="762.80" y="193.00" font-size="10.7" text-anchor="start" font-weight="normal" fill="#1a1a1a" style="color:#1a1a1a" >MG132</text>
<rect x="801.00" y="186.80" width="8.20" height="5.40" fill="#00ee00" />
<text x="811.00" y="193.00" font-size="10.7" text-anchor="start" font-weight="normal" fill="#1a1a1a" style="color:#1a1a1a" >MG132+C210</text>
<line x1="377.70" y1="490.80" x2="377.70" y2="635.30" stroke="#808080" stroke-width="1.2"/>
<line x1="377.10" y1="634.80" x2="593.10" y2="634.80" stroke="#808080" stroke-width="1.2"/>
<line x1="371.70" y1="634.80" x2="377.70" y2="634.80" stroke="#808080" stroke-width="1.2"/>
<text x="369.20" y="638.50" font-size="10.3" text-anchor="end" font-weight="normal" fill="#1a1a1a" style="color:#1a1a1a" >0.0</text>
<line x1="371.70" y1="586.80" x2="377.70" y2="586.80" stroke="#808080" stroke-width="1.2"/>
<text x="369.20" y="590.50" font-size="10.3" text-anchor="end" font-weight="normal" fill="#1a1a1a" style="color:#1a1a1a" >0.5</text>
<line x1="371.70" y1="538.80" x2="377.70" y2="538.80" stroke="#808080" stroke-width="1.2"/>
<text x="369.20" y="542.50" font-size="10.3" text-anchor="end" font-weight="normal" fill="#1a1a1a" style="color:#1a1a1a" >1.0</text>
<line x1="371.70" y1="490.80" x2="377.70" y2="490.80" stroke="#808080" stroke-width="1.2"/>
<text x="369.20" y="494.50" font-size="10.3" text-anchor="end" font-weight="normal" fill="#1a1a1a" style="color:#1a1a1a" >1.5</text>
<rect x="382.30" y="538.80" width="9.40" height="96.00" fill="#000" stroke="#111" stroke-width="0.8" />
<rect x="396.70" y="541.68" width="9.40" height="93.12" fill="#ccffcc" stroke="#111" stroke-width="0.8" />
<line x1="401.40" y1="541.68" x2="401.40" y2="539.76" stroke="#222" stroke-width="0.9"/>
<line x1="399.20" y1="539.76" x2="403.60" y2="539.76" stroke="#222" stroke-width="0.9"/>
<rect x="411.10" y="542.16" width="9.40" height="92.64" fill="#00ff00" stroke="#111" stroke-width="0.8" />
<line x1="415.80" y1="542.16" x2="415.80" y2="540.24" stroke="#222" stroke-width="0.9"/>
<line x1="413.60" y1="540.24" x2="418.00" y2="540.24" stroke="#222" stroke-width="0.9"/>
<rect x="425.50" y="548.40" width="9.40" height="86.40" fill="#008000" stroke="#111" stroke-width="0.8" />
<line x1="430.20" y1="548.40" x2="430.20" y2="545.52" stroke="#222" stroke-width="0.9"/>
<line x1="428.00" y1="545.52" x2="432.40" y2="545.52" stroke="#222" stroke-width="0.9"/>
<rect x="439.90" y="580.37" width="9.40" height="54.43" fill="#ffa0a0" stroke="#111" stroke-width="0.8" />
<line x1="444.60" y1="580.37" x2="444.60" y2="579.41" stroke="#222" stroke-width="0.9"/>
<line x1="442.40" y1="579.41" x2="446.80" y2="579.41" stroke="#222" stroke-width="0.9"/>
<text x="444.60" y="580.01" font-size="11" text-anchor="middle" font-weight="normal" fill="#b07070" style="color:#b07070" >**</text>
<rect x="454.30" y="591.31" width="9.40" height="43.49" fill="#ff0000" stroke="#111" stroke-width="0.8" />
<line x1="459.00" y1="591.31" x2="459.00" y2="587.47" stroke="#222" stroke-width="0.9"/>
<line x1="456.80" y1="587.47" x2="461.20" y2="587.47" stroke="#222" stroke-width="0.9"/>
<text x="459.00" y="588.07" font-size="11" text-anchor="middle" font-weight="normal" fill="#ee2020" style="color:#ee2020" >**</text>
<rect x="468.70" y="601.58" width="9.40" height="33.22" fill="#990000" stroke="#111" stroke-width="0.8" />
<line x1="473.40" y1="601.58" x2="473.40" y2="597.74" stroke="#222" stroke-width="0.9"/>
<line x1="471.20" y1="597.74" x2="475.60" y2="597.74" stroke="#222" stroke-width="0.9"/>
<text x="473.40" y="598.34" font-size="11" text-anchor="middle" font-weight="normal" fill="#a01010" style="color:#a01010" >**</text>
<polyline points="401.40,535.26 401.40,532.70 444.60,532.70 444.60,566.01" fill="none" stroke="#8a8a8a" stroke-width="1.0"/>
<polyline points="415.80,529.70 415.80,522.10 459.00,522.10 459.00,574.07" fill="none" stroke="#8a8a8a" stroke-width="1.0"/>
<polyline points="430.20,519.10 430.20,511.20 473.40,511.20 473.40,584.34" fill="none" stroke="#8a8a8a" stroke-width="1.0"/>
<line x1="429.60" y1="634.80" x2="429.60" y2="640.80" stroke="#808080" stroke-width="1.2"/>
<rect x="491.90" y="538.80" width="9.40" height="96.00" fill="#000" stroke="#111" stroke-width="0.8" />
<rect x="506.30" y="557.04" width="9.40" height="77.76" fill="#ccffcc" stroke="#111" stroke-width="0.8" />
<line x1="511.00" y1="557.04" x2="511.00" y2="555.12" stroke="#222" stroke-width="0.9"/>
<line x1="508.80" y1="555.12" x2="513.20" y2="555.12" stroke="#222" stroke-width="0.9"/>
<rect x="520.70" y="559.92" width="9.40" height="74.88" fill="#00ff00" stroke="#111" stroke-width="0.8" />
<line x1="525.40" y1="559.92" x2="525.40" y2="557.04" stroke="#222" stroke-width="0.9"/>
<line x1="523.20" y1="557.04" x2="527.60" y2="557.04" stroke="#222" stroke-width="0.9"/>
<rect x="535.10" y="560.30" width="9.40" height="74.50" fill="#008000" stroke="#111" stroke-width="0.8" />
<line x1="539.80" y1="560.30" x2="539.80" y2="557.42" stroke="#222" stroke-width="0.9"/>
<line x1="537.60" y1="557.42" x2="542.00" y2="557.42" stroke="#222" stroke-width="0.9"/>
<rect x="549.50" y="588.43" width="9.40" height="46.37" fill="#ffa0a0" stroke="#111" stroke-width="0.8" />
<line x1="554.20" y1="588.43" x2="554.20" y2="585.55" stroke="#222" stroke-width="0.9"/>
<line x1="552.00" y1="585.55" x2="556.40" y2="585.55" stroke="#222" stroke-width="0.9"/>
<text x="554.20" y="586.15" font-size="11" text-anchor="middle" font-weight="normal" fill="#c8a0a0" style="color:#c8a0a0" >**</text>
<rect x="563.90" y="600.53" width="9.40" height="34.27" fill="#ff0000" stroke="#111" stroke-width="0.8" />
<line x1="568.60" y1="600.53" x2="568.60" y2="598.61" stroke="#222" stroke-width="0.9"/>
<line x1="566.40" y1="598.61" x2="570.80" y2="598.61" stroke="#222" stroke-width="0.9"/>
<text x="568.60" y="599.21" font-size="11" text-anchor="middle" font-weight="normal" fill="#ee2020" style="color:#ee2020" >**</text>
<rect x="578.30" y="611.76" width="9.40" height="23.04" fill="#990000" stroke="#111" stroke-width="0.8" />
<line x1="583.00" y1="611.76" x2="583.00" y2="609.84" stroke="#222" stroke-width="0.9"/>
<line x1="580.80" y1="609.84" x2="585.20" y2="609.84" stroke="#222" stroke-width="0.9"/>
<text x="583.00" y="610.44" font-size="11" text-anchor="middle" font-weight="normal" fill="#a01010" style="color:#a01010" >**</text>
<polyline points="511.00,550.62 511.00,542.20 554.20,542.20 554.20,572.15" fill="none" stroke="#8a8a8a" stroke-width="1.0"/>
<polyline points="525.40,539.20 525.40,530.30 568.60,530.30 568.60,585.21" fill="none" stroke="#8a8a8a" stroke-width="1.0"/>
<polyline points="539.80,527.30 539.80,516.60 583.00,516.60 583.00,596.44" fill="none" stroke="#8a8a8a" stroke-width="1.0"/>
<line x1="540.30" y1="634.80" x2="540.30" y2="640.80" stroke="#808080" stroke-width="1.2"/>
<text x="429.60" y="652.00" font-size="10.6" text-anchor="middle" font-weight="normal" fill="#1a1a1a" style="color:#1a1a1a" >PKM2</text>
<text x="539.60" y="651.50" font-size="10.6" text-anchor="middle" font-weight="normal" fill="#1a1a1a" style="color:#1a1a1a" >SDHB</text>
<text x="342.50" y="558.50" font-size="10.8" text-anchor="middle" font-weight="normal" fill="#1a1a1a" style="color:#1a1a1a" transform="rotate(-90 342.5 558.5)">Relative Expression</text>
<rect x="383.40" y="491.60" width="8.20" height="5.60" fill="#000" />
<text x="393.50" y="497.30" font-size="10.5" text-anchor="start" font-weight="normal" fill="#1a1a1a" style="color:#1a1a1a" >Control</text>
<rect x="432.20" y="481.80" width="8.40" height="5.80" fill="#ccf0e0" />
<rect x="464.00" y="481.80" width="8.40" height="5.80" fill="#00e000" />
<rect x="498.30" y="481.80" width="8.40" height="5.80" fill="#006020" />
<rect x="432.20" y="496.00" width="8.40" height="5.80" fill="#f0a0b0" />
<rect x="464.00" y="496.00" width="8.40" height="5.80" fill="#ff0000" />
<rect x="498.30" y="496.00" width="8.40" height="5.80" fill="#700010" />
<text x="444.90" y="489.20" font-size="10.5" text-anchor="start" font-weight="normal" fill="#1a1a1a" style="color:#1a1a1a" >2hr</text>
<text x="444.90" y="502.70" font-size="10.5" text-anchor="start" font-weight="normal" fill="#1a1a1a" style="color:#1a1a1a" >2hr</text>
<text x="477.70" y="489.20" font-size="10.5" text-anchor="start" font-weight="normal" fill="#1a1a1a" style="color:#1a1a1a" >4hr</text>
<text x="477.70" y="502.70" font-size="10.5" text-anchor="start" font-weight="normal" fill="#1a1a1a" style="color:#1a1a1a" >4hr</text>
<text x="512.40" y="489.20" font-size="10.5" text-anchor="start" font-weight="normal" fill="#1a1a1a" style="color:#1a1a1a" >8hr</text>
<text x="512.40" y="502.70" font-size="10.5" text-anchor="start" font-weight="normal" fill="#1a1a1a" style="color:#1a1a1a" >8hr</text>
<text x="533.00" y="489.20" font-size="10.6" text-anchor="start" font-weight="normal" fill="#1a1a1a" style="color:#1a1a1a" >Without C210</text>
<text x="533.00" y="502.70" font-size="10.5" text-anchor="start" font-weight="normal" fill="#1a1a1a" style="color:#1a1a1a" >With C210</text>
</svg>
</body></html>
